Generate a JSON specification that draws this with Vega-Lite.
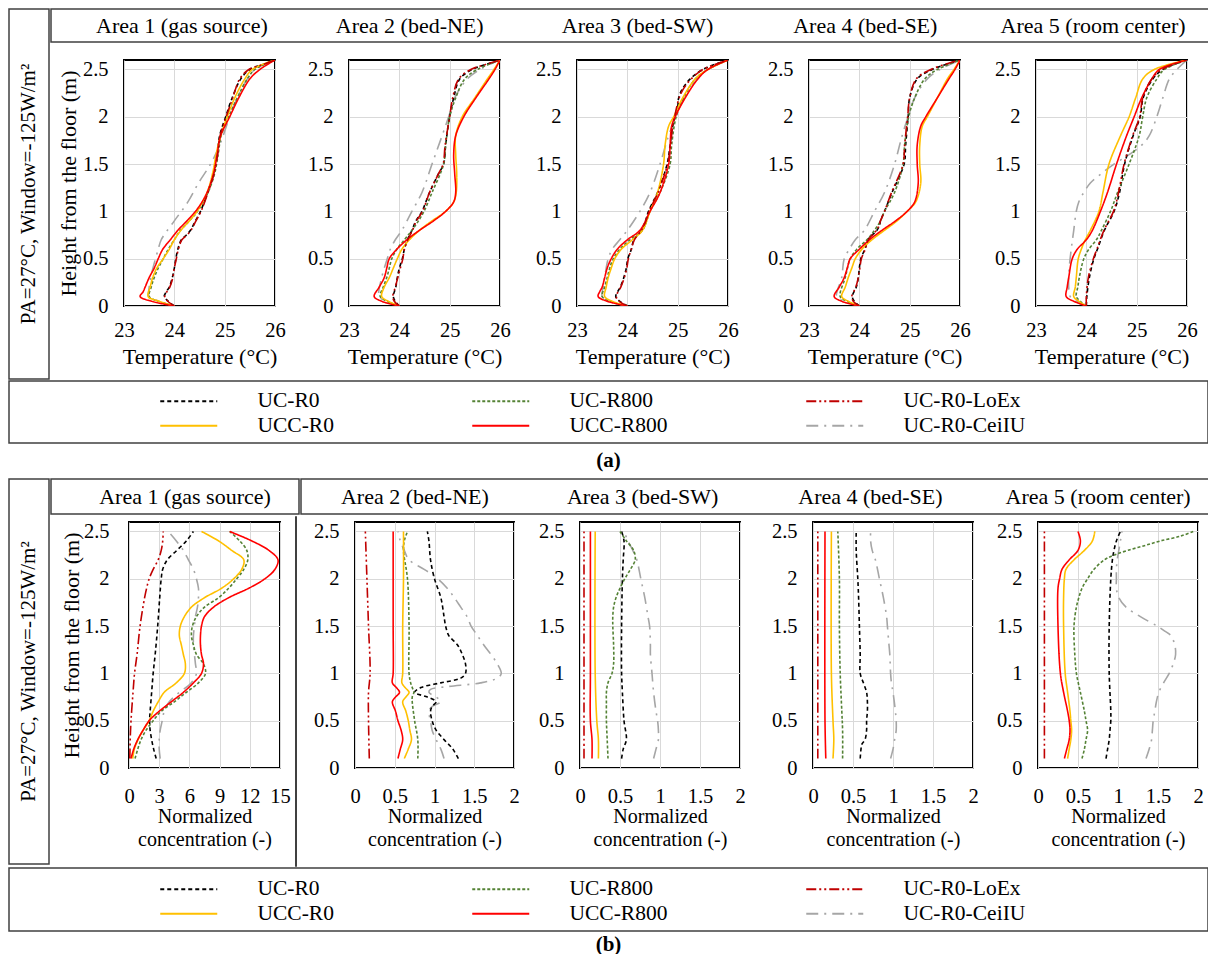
{
"$schema":"https://vega.github.io/schema/vega-lite/v6.json",
"background":"white",
"padding":{"left":8,"top":8,"right":0,"bottom":0},
"config":{
 "font":"Liberation Serif",
 "concat":{"spacing":0},
 "view":{"stroke":null},
 "axis":{"labelFont":"Liberation Serif","labelFontSize":20.5,"labelColor":"black","titleFont":"Liberation Serif","titleFontSize":22,"titleFontWeight":"normal","titleColor":"black","ticks":false,"domain":false,"gridColor":"#d9d9d9","gridWidth":1,"labelFlush":false,"labelOverlap":false},
 "text":{"font":"Liberation Serif","color":"black"}
},
"resolve":{"scale":{"color":"independent","strokeDash":"independent","strokeWidth":"independent"},"legend":{"color":"independent","strokeDash":"independent"}},
"datasets":{
"ta":[
{"p":1,"s":"UC-R0-CeiIU","h":0,"v":24},{"p":1,"s":"UC-R0-CeiIU","h":0.05,"v":23.7},{"p":1,"s":"UC-R0-CeiIU","h":0.1,"v":23.5},{"p":1,"s":"UC-R0-CeiIU","h":0.2,"v":23.5},{"p":1,"s":"UC-R0-CeiIU","h":0.3,"v":23.53},{"p":1,"s":"UC-R0-CeiIU","h":0.45,"v":23.6},{"p":1,"s":"UC-R0-CeiIU","h":0.6,"v":23.68},{"p":1,"s":"UC-R0-CeiIU","h":0.7,"v":23.74},{"p":1,"s":"UC-R0-CeiIU","h":0.9,"v":24.0},{"p":1,"s":"UC-R0-CeiIU","h":1.1,"v":24.27},{"p":1,"s":"UC-R0-CeiIU","h":1.3,"v":24.48},{"p":1,"s":"UC-R0-CeiIU","h":1.5,"v":24.72},{"p":1,"s":"UC-R0-CeiIU","h":1.7,"v":24.9},{"p":1,"s":"UC-R0-CeiIU","h":2,"v":25.1},{"p":1,"s":"UC-R0-CeiIU","h":2.2,"v":25.25},{"p":1,"s":"UC-R0-CeiIU","h":2.4,"v":25.45},{"p":1,"s":"UC-R0-CeiIU","h":2.5,"v":25.6},{"p":1,"s":"UC-R0-CeiIU","h":2.6,"v":26},
{"p":1,"s":"UC-R0","h":0,"v":24},{"p":1,"s":"UC-R0","h":0.05,"v":23.88},{"p":1,"s":"UC-R0","h":0.1,"v":23.8},{"p":1,"s":"UC-R0","h":0.15,"v":23.84},{"p":1,"s":"UC-R0","h":0.2,"v":23.9},{"p":1,"s":"UC-R0","h":0.3,"v":23.96},{"p":1,"s":"UC-R0","h":0.4,"v":24.0},{"p":1,"s":"UC-R0","h":0.5,"v":24.03},{"p":1,"s":"UC-R0","h":0.6,"v":24.07},{"p":1,"s":"UC-R0","h":0.7,"v":24.14},{"p":1,"s":"UC-R0","h":0.75,"v":24.24},{"p":1,"s":"UC-R0","h":0.8,"v":24.32},{"p":1,"s":"UC-R0","h":0.9,"v":24.42},{"p":1,"s":"UC-R0","h":1,"v":24.52},{"p":1,"s":"UC-R0","h":1.2,"v":24.66},{"p":1,"s":"UC-R0","h":1.4,"v":24.78},{"p":1,"s":"UC-R0","h":1.6,"v":24.85},{"p":1,"s":"UC-R0","h":1.8,"v":24.9},{"p":1,"s":"UC-R0","h":2,"v":25.02},{"p":1,"s":"UC-R0","h":2.2,"v":25.15},{"p":1,"s":"UC-R0","h":2.4,"v":25.32},{"p":1,"s":"UC-R0","h":2.5,"v":25.5},{"p":1,"s":"UC-R0","h":2.55,"v":25.75},{"p":1,"s":"UC-R0","h":2.6,"v":26},
{"p":1,"s":"UC-R800","h":0,"v":24},{"p":1,"s":"UC-R800","h":0.05,"v":23.68},{"p":1,"s":"UC-R800","h":0.1,"v":23.5},{"p":1,"s":"UC-R800","h":0.2,"v":23.54},{"p":1,"s":"UC-R800","h":0.3,"v":23.6},{"p":1,"s":"UC-R800","h":0.4,"v":23.68},{"p":1,"s":"UC-R800","h":0.5,"v":23.78},{"p":1,"s":"UC-R800","h":0.6,"v":23.88},{"p":1,"s":"UC-R800","h":0.7,"v":24.0},{"p":1,"s":"UC-R800","h":0.8,"v":24.12},{"p":1,"s":"UC-R800","h":0.9,"v":24.3},{"p":1,"s":"UC-R800","h":1,"v":24.46},{"p":1,"s":"UC-R800","h":1.2,"v":24.67},{"p":1,"s":"UC-R800","h":1.4,"v":24.8},{"p":1,"s":"UC-R800","h":1.6,"v":24.87},{"p":1,"s":"UC-R800","h":1.8,"v":24.93},{"p":1,"s":"UC-R800","h":2,"v":25.08},{"p":1,"s":"UC-R800","h":2.2,"v":25.25},{"p":1,"s":"UC-R800","h":2.4,"v":25.45},{"p":1,"s":"UC-R800","h":2.5,"v":25.6},{"p":1,"s":"UC-R800","h":2.6,"v":26},
{"p":1,"s":"UCC-R0","h":0,"v":24},{"p":1,"s":"UCC-R0","h":0.05,"v":23.7},{"p":1,"s":"UCC-R0","h":0.1,"v":23.48},{"p":1,"s":"UCC-R0","h":0.2,"v":23.52},{"p":1,"s":"UCC-R0","h":0.3,"v":23.57},{"p":1,"s":"UCC-R0","h":0.4,"v":23.65},{"p":1,"s":"UCC-R0","h":0.5,"v":23.78},{"p":1,"s":"UCC-R0","h":0.6,"v":23.9},{"p":1,"s":"UCC-R0","h":0.7,"v":24.0},{"p":1,"s":"UCC-R0","h":0.8,"v":24.13},{"p":1,"s":"UCC-R0","h":0.9,"v":24.3},{"p":1,"s":"UCC-R0","h":1,"v":24.45},{"p":1,"s":"UCC-R0","h":1.2,"v":24.65},{"p":1,"s":"UCC-R0","h":1.4,"v":24.76},{"p":1,"s":"UCC-R0","h":1.6,"v":24.83},{"p":1,"s":"UCC-R0","h":1.8,"v":24.92},{"p":1,"s":"UCC-R0","h":2,"v":25.05},{"p":1,"s":"UCC-R0","h":2.2,"v":25.2},{"p":1,"s":"UCC-R0","h":2.4,"v":25.4},{"p":1,"s":"UCC-R0","h":2.5,"v":25.55},{"p":1,"s":"UCC-R0","h":2.6,"v":26},
{"p":1,"s":"UCC-R800","h":0,"v":24},{"p":1,"s":"UCC-R800","h":0.05,"v":23.55},{"p":1,"s":"UCC-R800","h":0.1,"v":23.32},{"p":1,"s":"UCC-R800","h":0.15,"v":23.38},{"p":1,"s":"UCC-R800","h":0.2,"v":23.42},{"p":1,"s":"UCC-R800","h":0.3,"v":23.5},{"p":1,"s":"UCC-R800","h":0.4,"v":23.6},{"p":1,"s":"UCC-R800","h":0.5,"v":23.68},{"p":1,"s":"UCC-R800","h":0.6,"v":23.77},{"p":1,"s":"UCC-R800","h":0.7,"v":23.92},{"p":1,"s":"UCC-R800","h":0.8,"v":24.07},{"p":1,"s":"UCC-R800","h":0.9,"v":24.25},{"p":1,"s":"UCC-R800","h":1,"v":24.42},{"p":1,"s":"UCC-R800","h":1.1,"v":24.55},{"p":1,"s":"UCC-R800","h":1.2,"v":24.65},{"p":1,"s":"UCC-R800","h":1.4,"v":24.78},{"p":1,"s":"UCC-R800","h":1.6,"v":24.85},{"p":1,"s":"UCC-R800","h":1.8,"v":24.92},{"p":1,"s":"UCC-R800","h":2,"v":25.1},{"p":1,"s":"UCC-R800","h":2.2,"v":25.28},{"p":1,"s":"UCC-R800","h":2.4,"v":25.5},{"p":1,"s":"UCC-R800","h":2.5,"v":25.7},{"p":1,"s":"UCC-R800","h":2.6,"v":26},
{"p":1,"s":"UC-R0-LoEx","h":0,"v":24},{"p":1,"s":"UC-R0-LoEx","h":0.05,"v":23.87},{"p":1,"s":"UC-R0-LoEx","h":0.1,"v":23.81},{"p":1,"s":"UC-R0-LoEx","h":0.15,"v":23.85},{"p":1,"s":"UC-R0-LoEx","h":0.2,"v":23.91},{"p":1,"s":"UC-R0-LoEx","h":0.3,"v":23.97},{"p":1,"s":"UC-R0-LoEx","h":0.4,"v":24.0},{"p":1,"s":"UC-R0-LoEx","h":0.5,"v":24.04},{"p":1,"s":"UC-R0-LoEx","h":0.6,"v":24.08},{"p":1,"s":"UC-R0-LoEx","h":0.7,"v":24.15},{"p":1,"s":"UC-R0-LoEx","h":0.75,"v":24.25},{"p":1,"s":"UC-R0-LoEx","h":0.8,"v":24.33},{"p":1,"s":"UC-R0-LoEx","h":0.9,"v":24.43},{"p":1,"s":"UC-R0-LoEx","h":1,"v":24.53},{"p":1,"s":"UC-R0-LoEx","h":1.2,"v":24.67},{"p":1,"s":"UC-R0-LoEx","h":1.4,"v":24.79},{"p":1,"s":"UC-R0-LoEx","h":1.6,"v":24.86},{"p":1,"s":"UC-R0-LoEx","h":1.8,"v":24.91},{"p":1,"s":"UC-R0-LoEx","h":2,"v":25.03},{"p":1,"s":"UC-R0-LoEx","h":2.2,"v":25.16},{"p":1,"s":"UC-R0-LoEx","h":2.4,"v":25.3},{"p":1,"s":"UC-R0-LoEx","h":2.5,"v":25.48},{"p":1,"s":"UC-R0-LoEx","h":2.55,"v":25.75},{"p":1,"s":"UC-R0-LoEx","h":2.6,"v":26},
{"p":2,"s":"UC-R0-CeiIU","h":0,"v":24},{"p":2,"s":"UC-R0-CeiIU","h":0.05,"v":23.75},{"p":2,"s":"UC-R0-CeiIU","h":0.1,"v":23.6},{"p":2,"s":"UC-R0-CeiIU","h":0.3,"v":23.65},{"p":2,"s":"UC-R0-CeiIU","h":0.5,"v":23.76},{"p":2,"s":"UC-R0-CeiIU","h":0.6,"v":23.82},{"p":2,"s":"UC-R0-CeiIU","h":0.7,"v":23.92},{"p":2,"s":"UC-R0-CeiIU","h":0.8,"v":24.05},{"p":2,"s":"UC-R0-CeiIU","h":1,"v":24.25},{"p":2,"s":"UC-R0-CeiIU","h":1.2,"v":24.45},{"p":2,"s":"UC-R0-CeiIU","h":1.5,"v":24.65},{"p":2,"s":"UC-R0-CeiIU","h":1.8,"v":24.85},{"p":2,"s":"UC-R0-CeiIU","h":2,"v":24.98},{"p":2,"s":"UC-R0-CeiIU","h":2.2,"v":25.1},{"p":2,"s":"UC-R0-CeiIU","h":2.4,"v":25.35},{"p":2,"s":"UC-R0-CeiIU","h":2.5,"v":25.6},{"p":2,"s":"UC-R0-CeiIU","h":2.6,"v":26},
{"p":2,"s":"UC-R0","h":0,"v":24},{"p":2,"s":"UC-R0","h":0.05,"v":23.92},{"p":2,"s":"UC-R0","h":0.1,"v":23.88},{"p":2,"s":"UC-R0","h":0.2,"v":23.93},{"p":2,"s":"UC-R0","h":0.3,"v":23.96},{"p":2,"s":"UC-R0","h":0.4,"v":24.0},{"p":2,"s":"UC-R0","h":0.5,"v":24.06},{"p":2,"s":"UC-R0","h":0.6,"v":24.1},{"p":2,"s":"UC-R0","h":0.7,"v":24.16},{"p":2,"s":"UC-R0","h":0.8,"v":24.25},{"p":2,"s":"UC-R0","h":0.9,"v":24.33},{"p":2,"s":"UC-R0","h":1,"v":24.45},{"p":2,"s":"UC-R0","h":1.2,"v":24.6},{"p":2,"s":"UC-R0","h":1.4,"v":24.78},{"p":2,"s":"UC-R0","h":1.5,"v":24.88},{"p":2,"s":"UC-R0","h":1.7,"v":24.92},{"p":2,"s":"UC-R0","h":2,"v":25.0},{"p":2,"s":"UC-R0","h":2.2,"v":25.08},{"p":2,"s":"UC-R0","h":2.4,"v":25.2},{"p":2,"s":"UC-R0","h":2.5,"v":25.45},{"p":2,"s":"UC-R0","h":2.55,"v":25.7},{"p":2,"s":"UC-R0","h":2.6,"v":26},
{"p":2,"s":"UC-R800","h":0,"v":24},{"p":2,"s":"UC-R800","h":0.05,"v":23.75},{"p":2,"s":"UC-R800","h":0.1,"v":23.62},{"p":2,"s":"UC-R800","h":0.2,"v":23.68},{"p":2,"s":"UC-R800","h":0.3,"v":23.75},{"p":2,"s":"UC-R800","h":0.4,"v":23.8},{"p":2,"s":"UC-R800","h":0.5,"v":23.85},{"p":2,"s":"UC-R800","h":0.6,"v":23.95},{"p":2,"s":"UC-R800","h":0.7,"v":24.1},{"p":2,"s":"UC-R800","h":0.8,"v":24.25},{"p":2,"s":"UC-R800","h":0.9,"v":24.38},{"p":2,"s":"UC-R800","h":1,"v":24.49},{"p":2,"s":"UC-R800","h":1.2,"v":24.65},{"p":2,"s":"UC-R800","h":1.5,"v":24.88},{"p":2,"s":"UC-R800","h":1.7,"v":24.92},{"p":2,"s":"UC-R800","h":2,"v":25.0},{"p":2,"s":"UC-R800","h":2.2,"v":25.12},{"p":2,"s":"UC-R800","h":2.4,"v":25.3},{"p":2,"s":"UC-R800","h":2.5,"v":25.55},{"p":2,"s":"UC-R800","h":2.6,"v":26},
{"p":2,"s":"UCC-R0","h":0,"v":24},{"p":2,"s":"UCC-R0","h":0.05,"v":23.78},{"p":2,"s":"UCC-R0","h":0.1,"v":23.65},{"p":2,"s":"UCC-R0","h":0.2,"v":23.7},{"p":2,"s":"UCC-R0","h":0.3,"v":23.8},{"p":2,"s":"UCC-R0","h":0.4,"v":23.88},{"p":2,"s":"UCC-R0","h":0.5,"v":23.96},{"p":2,"s":"UCC-R0","h":0.6,"v":24.05},{"p":2,"s":"UCC-R0","h":0.7,"v":24.2},{"p":2,"s":"UCC-R0","h":0.8,"v":24.4},{"p":2,"s":"UCC-R0","h":0.9,"v":24.65},{"p":2,"s":"UCC-R0","h":1,"v":24.92},{"p":2,"s":"UCC-R0","h":1.1,"v":25.08},{"p":2,"s":"UCC-R0","h":1.2,"v":25.13},{"p":2,"s":"UCC-R0","h":1.4,"v":25.14},{"p":2,"s":"UCC-R0","h":1.6,"v":25.12},{"p":2,"s":"UCC-R0","h":1.8,"v":25.12},{"p":2,"s":"UCC-R0","h":2,"v":25.25},{"p":2,"s":"UCC-R0","h":2.2,"v":25.5},{"p":2,"s":"UCC-R0","h":2.4,"v":25.75},{"p":2,"s":"UCC-R0","h":2.5,"v":25.88},{"p":2,"s":"UCC-R0","h":2.6,"v":26},
{"p":2,"s":"UCC-R800","h":0,"v":24},{"p":2,"s":"UCC-R800","h":0.05,"v":23.65},{"p":2,"s":"UCC-R800","h":0.1,"v":23.5},{"p":2,"s":"UCC-R800","h":0.2,"v":23.6},{"p":2,"s":"UCC-R800","h":0.3,"v":23.7},{"p":2,"s":"UCC-R800","h":0.4,"v":23.75},{"p":2,"s":"UCC-R800","h":0.5,"v":23.8},{"p":2,"s":"UCC-R800","h":0.6,"v":23.95},{"p":2,"s":"UCC-R800","h":0.7,"v":24.15},{"p":2,"s":"UCC-R800","h":0.8,"v":24.4},{"p":2,"s":"UCC-R800","h":0.9,"v":24.68},{"p":2,"s":"UCC-R800","h":1,"v":24.92},{"p":2,"s":"UCC-R800","h":1.1,"v":25.08},{"p":2,"s":"UCC-R800","h":1.2,"v":25.12},{"p":2,"s":"UCC-R800","h":1.4,"v":25.1},{"p":2,"s":"UCC-R800","h":1.6,"v":25.08},{"p":2,"s":"UCC-R800","h":1.8,"v":25.12},{"p":2,"s":"UCC-R800","h":2,"v":25.28},{"p":2,"s":"UCC-R800","h":2.2,"v":25.52},{"p":2,"s":"UCC-R800","h":2.4,"v":25.78},{"p":2,"s":"UCC-R800","h":2.5,"v":25.9},{"p":2,"s":"UCC-R800","h":2.6,"v":26},
{"p":2,"s":"UC-R0-LoEx","h":0,"v":24},{"p":2,"s":"UC-R0-LoEx","h":0.05,"v":23.9},{"p":2,"s":"UC-R0-LoEx","h":0.1,"v":23.87},{"p":2,"s":"UC-R0-LoEx","h":0.2,"v":23.92},{"p":2,"s":"UC-R0-LoEx","h":0.3,"v":23.97},{"p":2,"s":"UC-R0-LoEx","h":0.4,"v":24.02},{"p":2,"s":"UC-R0-LoEx","h":0.5,"v":24.07},{"p":2,"s":"UC-R0-LoEx","h":0.6,"v":24.1},{"p":2,"s":"UC-R0-LoEx","h":0.7,"v":24.17},{"p":2,"s":"UC-R0-LoEx","h":0.8,"v":24.26},{"p":2,"s":"UC-R0-LoEx","h":0.9,"v":24.34},{"p":2,"s":"UC-R0-LoEx","h":1,"v":24.46},{"p":2,"s":"UC-R0-LoEx","h":1.2,"v":24.6},{"p":2,"s":"UC-R0-LoEx","h":1.4,"v":24.78},{"p":2,"s":"UC-R0-LoEx","h":1.5,"v":24.87},{"p":2,"s":"UC-R0-LoEx","h":1.7,"v":24.91},{"p":2,"s":"UC-R0-LoEx","h":2,"v":25.0},{"p":2,"s":"UC-R0-LoEx","h":2.2,"v":25.06},{"p":2,"s":"UC-R0-LoEx","h":2.4,"v":25.18},{"p":2,"s":"UC-R0-LoEx","h":2.5,"v":25.42},{"p":2,"s":"UC-R0-LoEx","h":2.55,"v":25.7},{"p":2,"s":"UC-R0-LoEx","h":2.6,"v":26},
{"p":3,"s":"UC-R0-CeiIU","h":0,"v":24},{"p":3,"s":"UC-R0-CeiIU","h":0.05,"v":23.65},{"p":3,"s":"UC-R0-CeiIU","h":0.1,"v":23.5},{"p":3,"s":"UC-R0-CeiIU","h":0.2,"v":23.52},{"p":3,"s":"UC-R0-CeiIU","h":0.3,"v":23.55},{"p":3,"s":"UC-R0-CeiIU","h":0.5,"v":23.62},{"p":3,"s":"UC-R0-CeiIU","h":0.6,"v":23.7},{"p":3,"s":"UC-R0-CeiIU","h":0.7,"v":23.85},{"p":3,"s":"UC-R0-CeiIU","h":0.8,"v":24.0},{"p":3,"s":"UC-R0-CeiIU","h":1,"v":24.25},{"p":3,"s":"UC-R0-CeiIU","h":1.2,"v":24.45},{"p":3,"s":"UC-R0-CeiIU","h":1.5,"v":24.65},{"p":3,"s":"UC-R0-CeiIU","h":1.8,"v":24.82},{"p":3,"s":"UC-R0-CeiIU","h":2,"v":24.97},{"p":3,"s":"UC-R0-CeiIU","h":2.2,"v":25.12},{"p":3,"s":"UC-R0-CeiIU","h":2.4,"v":25.4},{"p":3,"s":"UC-R0-CeiIU","h":2.5,"v":25.6},{"p":3,"s":"UC-R0-CeiIU","h":2.6,"v":26},
{"p":3,"s":"UC-R0","h":0,"v":24.01},{"p":3,"s":"UC-R0","h":0.05,"v":23.85},{"p":3,"s":"UC-R0","h":0.1,"v":23.77},{"p":3,"s":"UC-R0","h":0.2,"v":23.86},{"p":3,"s":"UC-R0","h":0.3,"v":23.93},{"p":3,"s":"UC-R0","h":0.4,"v":23.98},{"p":3,"s":"UC-R0","h":0.5,"v":24.01},{"p":3,"s":"UC-R0","h":0.6,"v":24.08},{"p":3,"s":"UC-R0","h":0.7,"v":24.13},{"p":3,"s":"UC-R0","h":0.8,"v":24.28},{"p":3,"s":"UC-R0","h":0.9,"v":24.36},{"p":3,"s":"UC-R0","h":1,"v":24.42},{"p":3,"s":"UC-R0","h":1.2,"v":24.6},{"p":3,"s":"UC-R0","h":1.5,"v":24.79},{"p":3,"s":"UC-R0","h":1.7,"v":24.85},{"p":3,"s":"UC-R0","h":1.9,"v":24.9},{"p":3,"s":"UC-R0","h":2,"v":24.95},{"p":3,"s":"UC-R0","h":2.1,"v":25.0},{"p":3,"s":"UC-R0","h":2.2,"v":25.02},{"p":3,"s":"UC-R0","h":2.3,"v":25.1},{"p":3,"s":"UC-R0","h":2.4,"v":25.25},{"p":3,"s":"UC-R0","h":2.5,"v":25.5},{"p":3,"s":"UC-R0","h":2.6,"v":26},
{"p":3,"s":"UC-R800","h":0,"v":24},{"p":3,"s":"UC-R800","h":0.05,"v":23.65},{"p":3,"s":"UC-R800","h":0.1,"v":23.5},{"p":3,"s":"UC-R800","h":0.2,"v":23.55},{"p":3,"s":"UC-R800","h":0.3,"v":23.6},{"p":3,"s":"UC-R800","h":0.4,"v":23.65},{"p":3,"s":"UC-R800","h":0.5,"v":23.72},{"p":3,"s":"UC-R800","h":0.6,"v":23.85},{"p":3,"s":"UC-R800","h":0.7,"v":24.05},{"p":3,"s":"UC-R800","h":0.8,"v":24.3},{"p":3,"s":"UC-R800","h":1,"v":24.45},{"p":3,"s":"UC-R800","h":1.2,"v":24.65},{"p":3,"s":"UC-R800","h":1.5,"v":24.85},{"p":3,"s":"UC-R800","h":1.7,"v":24.88},{"p":3,"s":"UC-R800","h":2,"v":24.97},{"p":3,"s":"UC-R800","h":2.2,"v":25.12},{"p":3,"s":"UC-R800","h":2.4,"v":25.35},{"p":3,"s":"UC-R800","h":2.5,"v":25.6},{"p":3,"s":"UC-R800","h":2.6,"v":26},
{"p":3,"s":"UCC-R0","h":0,"v":24},{"p":3,"s":"UCC-R0","h":0.05,"v":23.7},{"p":3,"s":"UCC-R0","h":0.1,"v":23.55},{"p":3,"s":"UCC-R0","h":0.2,"v":23.58},{"p":3,"s":"UCC-R0","h":0.3,"v":23.62},{"p":3,"s":"UCC-R0","h":0.4,"v":23.68},{"p":3,"s":"UCC-R0","h":0.5,"v":23.75},{"p":3,"s":"UCC-R0","h":0.6,"v":23.88},{"p":3,"s":"UCC-R0","h":0.7,"v":24.1},{"p":3,"s":"UCC-R0","h":0.8,"v":24.3},{"p":3,"s":"UCC-R0","h":1,"v":24.45},{"p":3,"s":"UCC-R0","h":1.2,"v":24.6},{"p":3,"s":"UCC-R0","h":1.5,"v":24.72},{"p":3,"s":"UCC-R0","h":1.7,"v":24.75},{"p":3,"s":"UCC-R0","h":1.9,"v":24.82},{"p":3,"s":"UCC-R0","h":2,"v":24.92},{"p":3,"s":"UCC-R0","h":2.2,"v":25.1},{"p":3,"s":"UCC-R0","h":2.4,"v":25.35},{"p":3,"s":"UCC-R0","h":2.5,"v":25.6},{"p":3,"s":"UCC-R0","h":2.6,"v":26},
{"p":3,"s":"UCC-R800","h":0,"v":24},{"p":3,"s":"UCC-R800","h":0.05,"v":23.6},{"p":3,"s":"UCC-R800","h":0.1,"v":23.42},{"p":3,"s":"UCC-R800","h":0.15,"v":23.45},{"p":3,"s":"UCC-R800","h":0.2,"v":23.5},{"p":3,"s":"UCC-R800","h":0.3,"v":23.55},{"p":3,"s":"UCC-R800","h":0.4,"v":23.6},{"p":3,"s":"UCC-R800","h":0.5,"v":23.68},{"p":3,"s":"UCC-R800","h":0.6,"v":23.8},{"p":3,"s":"UCC-R800","h":0.7,"v":24.0},{"p":3,"s":"UCC-R800","h":0.8,"v":24.25},{"p":3,"s":"UCC-R800","h":1,"v":24.45},{"p":3,"s":"UCC-R800","h":1.2,"v":24.65},{"p":3,"s":"UCC-R800","h":1.5,"v":24.82},{"p":3,"s":"UCC-R800","h":1.7,"v":24.85},{"p":3,"s":"UCC-R800","h":1.9,"v":24.88},{"p":3,"s":"UCC-R800","h":2,"v":24.95},{"p":3,"s":"UCC-R800","h":2.2,"v":25.15},{"p":3,"s":"UCC-R800","h":2.4,"v":25.4},{"p":3,"s":"UCC-R800","h":2.5,"v":25.6},{"p":3,"s":"UCC-R800","h":2.6,"v":26},
{"p":3,"s":"UC-R0-LoEx","h":0,"v":24},{"p":3,"s":"UC-R0-LoEx","h":0.05,"v":23.84},{"p":3,"s":"UC-R0-LoEx","h":0.1,"v":23.78},{"p":3,"s":"UC-R0-LoEx","h":0.2,"v":23.87},{"p":3,"s":"UC-R0-LoEx","h":0.3,"v":23.94},{"p":3,"s":"UC-R0-LoEx","h":0.4,"v":23.99},{"p":3,"s":"UC-R0-LoEx","h":0.5,"v":24.02},{"p":3,"s":"UC-R0-LoEx","h":0.6,"v":24.08},{"p":3,"s":"UC-R0-LoEx","h":0.7,"v":24.14},{"p":3,"s":"UC-R0-LoEx","h":0.8,"v":24.28},{"p":3,"s":"UC-R0-LoEx","h":0.9,"v":24.37},{"p":3,"s":"UC-R0-LoEx","h":1,"v":24.43},{"p":3,"s":"UC-R0-LoEx","h":1.2,"v":24.61},{"p":3,"s":"UC-R0-LoEx","h":1.5,"v":24.8},{"p":3,"s":"UC-R0-LoEx","h":1.7,"v":24.86},{"p":3,"s":"UC-R0-LoEx","h":1.9,"v":24.9},{"p":3,"s":"UC-R0-LoEx","h":2,"v":24.94},{"p":3,"s":"UC-R0-LoEx","h":2.1,"v":24.98},{"p":3,"s":"UC-R0-LoEx","h":2.2,"v":25.03},{"p":3,"s":"UC-R0-LoEx","h":2.3,"v":25.12},{"p":3,"s":"UC-R0-LoEx","h":2.4,"v":25.27},{"p":3,"s":"UC-R0-LoEx","h":2.5,"v":25.5},{"p":3,"s":"UC-R0-LoEx","h":2.6,"v":26},
{"p":4,"s":"UC-R0-CeiIU","h":0,"v":24},{"p":4,"s":"UC-R0-CeiIU","h":0.05,"v":23.7},{"p":4,"s":"UC-R0-CeiIU","h":0.1,"v":23.55},{"p":4,"s":"UC-R0-CeiIU","h":0.3,"v":23.65},{"p":4,"s":"UC-R0-CeiIU","h":0.5,"v":23.7},{"p":4,"s":"UC-R0-CeiIU","h":0.6,"v":23.8},{"p":4,"s":"UC-R0-CeiIU","h":0.7,"v":23.92},{"p":4,"s":"UC-R0-CeiIU","h":0.8,"v":24.1},{"p":4,"s":"UC-R0-CeiIU","h":1,"v":24.3},{"p":4,"s":"UC-R0-CeiIU","h":1.2,"v":24.5},{"p":4,"s":"UC-R0-CeiIU","h":1.5,"v":24.7},{"p":4,"s":"UC-R0-CeiIU","h":1.8,"v":24.85},{"p":4,"s":"UC-R0-CeiIU","h":2,"v":24.97},{"p":4,"s":"UC-R0-CeiIU","h":2.2,"v":25.1},{"p":4,"s":"UC-R0-CeiIU","h":2.4,"v":25.35},{"p":4,"s":"UC-R0-CeiIU","h":2.5,"v":25.6},{"p":4,"s":"UC-R0-CeiIU","h":2.6,"v":26},
{"p":4,"s":"UC-R0","h":0,"v":24},{"p":4,"s":"UC-R0","h":0.05,"v":23.9},{"p":4,"s":"UC-R0","h":0.1,"v":23.86},{"p":4,"s":"UC-R0","h":0.2,"v":23.94},{"p":4,"s":"UC-R0","h":0.3,"v":23.98},{"p":4,"s":"UC-R0","h":0.4,"v":24.0},{"p":4,"s":"UC-R0","h":0.5,"v":24.03},{"p":4,"s":"UC-R0","h":0.6,"v":24.11},{"p":4,"s":"UC-R0","h":0.7,"v":24.17},{"p":4,"s":"UC-R0","h":0.8,"v":24.35},{"p":4,"s":"UC-R0","h":0.85,"v":24.4},{"p":4,"s":"UC-R0","h":0.9,"v":24.42},{"p":4,"s":"UC-R0","h":1,"v":24.5},{"p":4,"s":"UC-R0","h":1.2,"v":24.65},{"p":4,"s":"UC-R0","h":1.5,"v":24.89},{"p":4,"s":"UC-R0","h":1.7,"v":24.92},{"p":4,"s":"UC-R0","h":2,"v":24.97},{"p":4,"s":"UC-R0","h":2.2,"v":25.0},{"p":4,"s":"UC-R0","h":2.4,"v":25.15},{"p":4,"s":"UC-R0","h":2.5,"v":25.45},{"p":4,"s":"UC-R0","h":2.6,"v":26},
{"p":4,"s":"UC-R800","h":0,"v":24},{"p":4,"s":"UC-R800","h":0.05,"v":23.75},{"p":4,"s":"UC-R800","h":0.1,"v":23.62},{"p":4,"s":"UC-R800","h":0.3,"v":23.72},{"p":4,"s":"UC-R800","h":0.5,"v":23.82},{"p":4,"s":"UC-R800","h":0.6,"v":23.95},{"p":4,"s":"UC-R800","h":0.7,"v":24.15},{"p":4,"s":"UC-R800","h":0.8,"v":24.3},{"p":4,"s":"UC-R800","h":0.9,"v":24.42},{"p":4,"s":"UC-R800","h":1,"v":24.5},{"p":4,"s":"UC-R800","h":1.2,"v":24.7},{"p":4,"s":"UC-R800","h":1.5,"v":24.87},{"p":4,"s":"UC-R800","h":1.7,"v":24.9},{"p":4,"s":"UC-R800","h":2,"v":24.98},{"p":4,"s":"UC-R800","h":2.2,"v":25.1},{"p":4,"s":"UC-R800","h":2.4,"v":25.3},{"p":4,"s":"UC-R800","h":2.5,"v":25.55},{"p":4,"s":"UC-R800","h":2.6,"v":26},
{"p":4,"s":"UCC-R0","h":0,"v":24},{"p":4,"s":"UCC-R0","h":0.05,"v":23.78},{"p":4,"s":"UCC-R0","h":0.1,"v":23.65},{"p":4,"s":"UCC-R0","h":0.2,"v":23.72},{"p":4,"s":"UCC-R0","h":0.3,"v":23.78},{"p":4,"s":"UCC-R0","h":0.4,"v":23.85},{"p":4,"s":"UCC-R0","h":0.5,"v":23.92},{"p":4,"s":"UCC-R0","h":0.6,"v":24.05},{"p":4,"s":"UCC-R0","h":0.7,"v":24.25},{"p":4,"s":"UCC-R0","h":0.8,"v":24.5},{"p":4,"s":"UCC-R0","h":0.9,"v":24.75},{"p":4,"s":"UCC-R0","h":1,"v":24.95},{"p":4,"s":"UCC-R0","h":1.1,"v":25.12},{"p":4,"s":"UCC-R0","h":1.3,"v":25.22},{"p":4,"s":"UCC-R0","h":1.5,"v":25.2},{"p":4,"s":"UCC-R0","h":1.7,"v":25.2},{"p":4,"s":"UCC-R0","h":1.9,"v":25.25},{"p":4,"s":"UCC-R0","h":2,"v":25.35},{"p":4,"s":"UCC-R0","h":2.2,"v":25.55},{"p":4,"s":"UCC-R0","h":2.4,"v":25.75},{"p":4,"s":"UCC-R0","h":2.5,"v":25.88},{"p":4,"s":"UCC-R0","h":2.6,"v":26},
{"p":4,"s":"UCC-R800","h":0,"v":24},{"p":4,"s":"UCC-R800","h":0.05,"v":23.65},{"p":4,"s":"UCC-R800","h":0.1,"v":23.5},{"p":4,"s":"UCC-R800","h":0.2,"v":23.6},{"p":4,"s":"UCC-R800","h":0.3,"v":23.7},{"p":4,"s":"UCC-R800","h":0.4,"v":23.76},{"p":4,"s":"UCC-R800","h":0.5,"v":23.82},{"p":4,"s":"UCC-R800","h":0.6,"v":24.0},{"p":4,"s":"UCC-R800","h":0.7,"v":24.2},{"p":4,"s":"UCC-R800","h":0.8,"v":24.45},{"p":4,"s":"UCC-R800","h":0.9,"v":24.72},{"p":4,"s":"UCC-R800","h":1,"v":24.95},{"p":4,"s":"UCC-R800","h":1.1,"v":25.1},{"p":4,"s":"UCC-R800","h":1.3,"v":25.17},{"p":4,"s":"UCC-R800","h":1.5,"v":25.15},{"p":4,"s":"UCC-R800","h":1.7,"v":25.15},{"p":4,"s":"UCC-R800","h":1.9,"v":25.22},{"p":4,"s":"UCC-R800","h":2,"v":25.32},{"p":4,"s":"UCC-R800","h":2.2,"v":25.55},{"p":4,"s":"UCC-R800","h":2.4,"v":25.78},{"p":4,"s":"UCC-R800","h":2.5,"v":25.9},{"p":4,"s":"UCC-R800","h":2.6,"v":26},
{"p":4,"s":"UC-R0-LoEx","h":0,"v":24},{"p":4,"s":"UC-R0-LoEx","h":0.05,"v":23.88},{"p":4,"s":"UC-R0-LoEx","h":0.1,"v":23.85},{"p":4,"s":"UC-R0-LoEx","h":0.2,"v":23.93},{"p":4,"s":"UC-R0-LoEx","h":0.3,"v":23.98},{"p":4,"s":"UC-R0-LoEx","h":0.4,"v":24.01},{"p":4,"s":"UC-R0-LoEx","h":0.5,"v":24.04},{"p":4,"s":"UC-R0-LoEx","h":0.6,"v":24.12},{"p":4,"s":"UC-R0-LoEx","h":0.7,"v":24.18},{"p":4,"s":"UC-R0-LoEx","h":0.8,"v":24.34},{"p":4,"s":"UC-R0-LoEx","h":0.85,"v":24.39},{"p":4,"s":"UC-R0-LoEx","h":0.9,"v":24.42},{"p":4,"s":"UC-R0-LoEx","h":1,"v":24.5},{"p":4,"s":"UC-R0-LoEx","h":1.2,"v":24.64},{"p":4,"s":"UC-R0-LoEx","h":1.5,"v":24.87},{"p":4,"s":"UC-R0-LoEx","h":1.7,"v":24.9},{"p":4,"s":"UC-R0-LoEx","h":2,"v":24.96},{"p":4,"s":"UC-R0-LoEx","h":2.2,"v":25.0},{"p":4,"s":"UC-R0-LoEx","h":2.4,"v":25.13},{"p":4,"s":"UC-R0-LoEx","h":2.5,"v":25.42},{"p":4,"s":"UC-R0-LoEx","h":2.6,"v":26},
{"p":5,"s":"UC-R0-CeiIU","h":0,"v":24},{"p":5,"s":"UC-R0-CeiIU","h":0.05,"v":23.8},{"p":5,"s":"UC-R0-CeiIU","h":0.1,"v":23.68},{"p":5,"s":"UC-R0-CeiIU","h":0.2,"v":23.65},{"p":5,"s":"UC-R0-CeiIU","h":0.4,"v":23.66},{"p":5,"s":"UC-R0-CeiIU","h":0.6,"v":23.7},{"p":5,"s":"UC-R0-CeiIU","h":0.8,"v":23.75},{"p":5,"s":"UC-R0-CeiIU","h":1,"v":23.8},{"p":5,"s":"UC-R0-CeiIU","h":1.1,"v":23.85},{"p":5,"s":"UC-R0-CeiIU","h":1.2,"v":23.95},{"p":5,"s":"UC-R0-CeiIU","h":1.3,"v":24.08},{"p":5,"s":"UC-R0-CeiIU","h":1.4,"v":24.3},{"p":5,"s":"UC-R0-CeiIU","h":1.5,"v":24.55},{"p":5,"s":"UC-R0-CeiIU","h":1.6,"v":24.85},{"p":5,"s":"UC-R0-CeiIU","h":1.7,"v":25.1},{"p":5,"s":"UC-R0-CeiIU","h":1.8,"v":25.25},{"p":5,"s":"UC-R0-CeiIU","h":2,"v":25.4},{"p":5,"s":"UC-R0-CeiIU","h":2.2,"v":25.52},{"p":5,"s":"UC-R0-CeiIU","h":2.4,"v":25.65},{"p":5,"s":"UC-R0-CeiIU","h":2.5,"v":25.8},{"p":5,"s":"UC-R0-CeiIU","h":2.6,"v":26},
{"p":5,"s":"UC-R0","h":0,"v":24},{"p":5,"s":"UC-R0","h":0.1,"v":24.01},{"p":5,"s":"UC-R0","h":0.3,"v":24.06},{"p":5,"s":"UC-R0","h":0.5,"v":24.15},{"p":5,"s":"UC-R0","h":0.6,"v":24.22},{"p":5,"s":"UC-R0","h":0.8,"v":24.36},{"p":5,"s":"UC-R0","h":1,"v":24.55},{"p":5,"s":"UC-R0","h":1.2,"v":24.66},{"p":5,"s":"UC-R0","h":1.5,"v":24.76},{"p":5,"s":"UC-R0","h":1.8,"v":24.93},{"p":5,"s":"UC-R0","h":2,"v":25.07},{"p":5,"s":"UC-R0","h":2.2,"v":25.13},{"p":5,"s":"UC-R0","h":2.4,"v":25.32},{"p":5,"s":"UC-R0","h":2.5,"v":25.52},{"p":5,"s":"UC-R0","h":2.6,"v":26},
{"p":5,"s":"UC-R800","h":0,"v":24},{"p":5,"s":"UC-R800","h":0.05,"v":23.88},{"p":5,"s":"UC-R800","h":0.1,"v":23.8},{"p":5,"s":"UC-R800","h":0.2,"v":23.83},{"p":5,"s":"UC-R800","h":0.3,"v":23.86},{"p":5,"s":"UC-R800","h":0.5,"v":23.95},{"p":5,"s":"UC-R800","h":0.6,"v":24.05},{"p":5,"s":"UC-R800","h":0.7,"v":24.2},{"p":5,"s":"UC-R800","h":0.8,"v":24.3},{"p":5,"s":"UC-R800","h":1,"v":24.48},{"p":5,"s":"UC-R800","h":1.2,"v":24.62},{"p":5,"s":"UC-R800","h":1.5,"v":24.85},{"p":5,"s":"UC-R800","h":1.8,"v":25.05},{"p":5,"s":"UC-R800","h":2,"v":25.12},{"p":5,"s":"UC-R800","h":2.2,"v":25.2},{"p":5,"s":"UC-R800","h":2.4,"v":25.4},{"p":5,"s":"UC-R800","h":2.5,"v":25.55},{"p":5,"s":"UC-R800","h":2.6,"v":26},
{"p":5,"s":"UCC-R0","h":0,"v":24},{"p":5,"s":"UCC-R0","h":0.05,"v":23.85},{"p":5,"s":"UCC-R0","h":0.1,"v":23.75},{"p":5,"s":"UCC-R0","h":0.2,"v":23.78},{"p":5,"s":"UCC-R0","h":0.3,"v":23.8},{"p":5,"s":"UCC-R0","h":0.5,"v":23.84},{"p":5,"s":"UCC-R0","h":0.6,"v":23.9},{"p":5,"s":"UCC-R0","h":0.7,"v":23.98},{"p":5,"s":"UCC-R0","h":0.8,"v":24.08},{"p":5,"s":"UCC-R0","h":1,"v":24.25},{"p":5,"s":"UCC-R0","h":1.2,"v":24.33},{"p":5,"s":"UCC-R0","h":1.5,"v":24.45},{"p":5,"s":"UCC-R0","h":1.8,"v":24.68},{"p":5,"s":"UCC-R0","h":2,"v":24.85},{"p":5,"s":"UCC-R0","h":2.2,"v":24.98},{"p":5,"s":"UCC-R0","h":2.4,"v":25.12},{"p":5,"s":"UCC-R0","h":2.5,"v":25.35},{"p":5,"s":"UCC-R0","h":2.6,"v":26},
{"p":5,"s":"UCC-R800","h":0,"v":24},{"p":5,"s":"UCC-R800","h":0.05,"v":23.75},{"p":5,"s":"UCC-R800","h":0.1,"v":23.6},{"p":5,"s":"UCC-R800","h":0.2,"v":23.62},{"p":5,"s":"UCC-R800","h":0.3,"v":23.65},{"p":5,"s":"UCC-R800","h":0.5,"v":23.72},{"p":5,"s":"UCC-R800","h":0.6,"v":23.82},{"p":5,"s":"UCC-R800","h":0.7,"v":24.0},{"p":5,"s":"UCC-R800","h":0.8,"v":24.12},{"p":5,"s":"UCC-R800","h":1,"v":24.28},{"p":5,"s":"UCC-R800","h":1.2,"v":24.42},{"p":5,"s":"UCC-R800","h":1.5,"v":24.6},{"p":5,"s":"UCC-R800","h":1.8,"v":24.8},{"p":5,"s":"UCC-R800","h":2,"v":24.95},{"p":5,"s":"UCC-R800","h":2.2,"v":25.1},{"p":5,"s":"UCC-R800","h":2.4,"v":25.3},{"p":5,"s":"UCC-R800","h":2.5,"v":25.45},{"p":5,"s":"UCC-R800","h":2.6,"v":26},
{"p":5,"s":"UC-R0-LoEx","h":0,"v":24},{"p":5,"s":"UC-R0-LoEx","h":0.1,"v":24.0},{"p":5,"s":"UC-R0-LoEx","h":0.3,"v":24.04},{"p":5,"s":"UC-R0-LoEx","h":0.5,"v":24.14},{"p":5,"s":"UC-R0-LoEx","h":0.6,"v":24.21},{"p":5,"s":"UC-R0-LoEx","h":0.8,"v":24.35},{"p":5,"s":"UC-R0-LoEx","h":1,"v":24.54},{"p":5,"s":"UC-R0-LoEx","h":1.2,"v":24.64},{"p":5,"s":"UC-R0-LoEx","h":1.5,"v":24.75},{"p":5,"s":"UC-R0-LoEx","h":1.8,"v":24.92},{"p":5,"s":"UC-R0-LoEx","h":2,"v":25.06},{"p":5,"s":"UC-R0-LoEx","h":2.2,"v":25.12},{"p":5,"s":"UC-R0-LoEx","h":2.4,"v":25.3},{"p":5,"s":"UC-R0-LoEx","h":2.5,"v":25.5},{"p":5,"s":"UC-R0-LoEx","h":2.6,"v":26}
],
"cb":[
{"p":1,"s":"UC-R0-CeiIU","h":0.1,"v":3.1},{"p":1,"s":"UC-R0-CeiIU","h":0.2,"v":3.0},{"p":1,"s":"UC-R0-CeiIU","h":0.3,"v":3.0},{"p":1,"s":"UC-R0-CeiIU","h":0.4,"v":3.1},{"p":1,"s":"UC-R0-CeiIU","h":0.5,"v":3.3},{"p":1,"s":"UC-R0-CeiIU","h":0.6,"v":3.5},{"p":1,"s":"UC-R0-CeiIU","h":0.7,"v":4.0},{"p":1,"s":"UC-R0-CeiIU","h":0.8,"v":5.0},{"p":1,"s":"UC-R0-CeiIU","h":0.9,"v":6.2},{"p":1,"s":"UC-R0-CeiIU","h":1,"v":6.7},{"p":1,"s":"UC-R0-CeiIU","h":1.1,"v":6.6},{"p":1,"s":"UC-R0-CeiIU","h":1.2,"v":6.5},{"p":1,"s":"UC-R0-CeiIU","h":1.3,"v":6.4},{"p":1,"s":"UC-R0-CeiIU","h":1.4,"v":6.4},{"p":1,"s":"UC-R0-CeiIU","h":1.5,"v":6.5},{"p":1,"s":"UC-R0-CeiIU","h":1.6,"v":6.6},{"p":1,"s":"UC-R0-CeiIU","h":1.7,"v":6.8},{"p":1,"s":"UC-R0-CeiIU","h":1.8,"v":6.9},{"p":1,"s":"UC-R0-CeiIU","h":1.9,"v":6.9},{"p":1,"s":"UC-R0-CeiIU","h":2,"v":6.7},{"p":1,"s":"UC-R0-CeiIU","h":2.1,"v":6.4},{"p":1,"s":"UC-R0-CeiIU","h":2.2,"v":5.9},{"p":1,"s":"UC-R0-CeiIU","h":2.3,"v":5.4},{"p":1,"s":"UC-R0-CeiIU","h":2.4,"v":4.7},{"p":1,"s":"UC-R0-CeiIU","h":2.5,"v":3.9},
{"p":1,"s":"UC-R0","h":0.1,"v":2.7},{"p":1,"s":"UC-R0","h":0.2,"v":2.45},{"p":1,"s":"UC-R0","h":0.3,"v":2.25},{"p":1,"s":"UC-R0","h":0.4,"v":2.1},{"p":1,"s":"UC-R0","h":0.5,"v":2.05},{"p":1,"s":"UC-R0","h":0.6,"v":2.1},{"p":1,"s":"UC-R0","h":0.8,"v":2.25},{"p":1,"s":"UC-R0","h":1,"v":2.4},{"p":1,"s":"UC-R0","h":1.2,"v":2.6},{"p":1,"s":"UC-R0","h":1.5,"v":2.85},{"p":1,"s":"UC-R0","h":1.8,"v":3.05},{"p":1,"s":"UC-R0","h":2,"v":3.2},{"p":1,"s":"UC-R0","h":2.1,"v":3.35},{"p":1,"s":"UC-R0","h":2.2,"v":3.8},{"p":1,"s":"UC-R0","h":2.3,"v":4.75},{"p":1,"s":"UC-R0","h":2.4,"v":5.7},{"p":1,"s":"UC-R0","h":2.5,"v":6.4},
{"p":1,"s":"UC-R800","h":0.1,"v":0.6},{"p":1,"s":"UC-R800","h":0.2,"v":0.87},{"p":1,"s":"UC-R800","h":0.3,"v":1.2},{"p":1,"s":"UC-R800","h":0.4,"v":1.7},{"p":1,"s":"UC-R800","h":0.5,"v":2.4},{"p":1,"s":"UC-R800","h":0.6,"v":3.2},{"p":1,"s":"UC-R800","h":0.7,"v":4.5},{"p":1,"s":"UC-R800","h":0.8,"v":5.7},{"p":1,"s":"UC-R800","h":0.9,"v":6.9},{"p":1,"s":"UC-R800","h":1,"v":7.6},{"p":1,"s":"UC-R800","h":1.1,"v":7.4},{"p":1,"s":"UC-R800","h":1.2,"v":6.7},{"p":1,"s":"UC-R800","h":1.3,"v":6.4},{"p":1,"s":"UC-R800","h":1.4,"v":6.2},{"p":1,"s":"UC-R800","h":1.5,"v":6.3},{"p":1,"s":"UC-R800","h":1.6,"v":6.7},{"p":1,"s":"UC-R800","h":1.7,"v":7.5},{"p":1,"s":"UC-R800","h":1.8,"v":8.9},{"p":1,"s":"UC-R800","h":1.9,"v":9.9},{"p":1,"s":"UC-R800","h":2,"v":10.7},{"p":1,"s":"UC-R800","h":2.1,"v":11.4},{"p":1,"s":"UC-R800","h":2.2,"v":11.8},{"p":1,"s":"UC-R800","h":2.3,"v":11.7},{"p":1,"s":"UC-R800","h":2.4,"v":11.0},{"p":1,"s":"UC-R800","h":2.5,"v":10.0},
{"p":1,"s":"UCC-R0","h":0.1,"v":0.37},{"p":1,"s":"UCC-R0","h":0.2,"v":0.53},{"p":1,"s":"UCC-R0","h":0.3,"v":0.9},{"p":1,"s":"UCC-R0","h":0.4,"v":1.4},{"p":1,"s":"UCC-R0","h":0.5,"v":2.0},{"p":1,"s":"UCC-R0","h":0.6,"v":2.4},{"p":1,"s":"UCC-R0","h":0.7,"v":2.9},{"p":1,"s":"UCC-R0","h":0.8,"v":3.5},{"p":1,"s":"UCC-R0","h":0.9,"v":4.7},{"p":1,"s":"UCC-R0","h":1,"v":5.5},{"p":1,"s":"UCC-R0","h":1.1,"v":5.6},{"p":1,"s":"UCC-R0","h":1.2,"v":5.4},{"p":1,"s":"UCC-R0","h":1.3,"v":5.2},{"p":1,"s":"UCC-R0","h":1.4,"v":5.0},{"p":1,"s":"UCC-R0","h":1.5,"v":5.1},{"p":1,"s":"UCC-R0","h":1.6,"v":5.5},{"p":1,"s":"UCC-R0","h":1.7,"v":6.2},{"p":1,"s":"UCC-R0","h":1.8,"v":7.5},{"p":1,"s":"UCC-R0","h":1.9,"v":9.2},{"p":1,"s":"UCC-R0","h":2,"v":10.4},{"p":1,"s":"UCC-R0","h":2.1,"v":11.2},{"p":1,"s":"UCC-R0","h":2.2,"v":11.4},{"p":1,"s":"UCC-R0","h":2.3,"v":10.2},{"p":1,"s":"UCC-R0","h":2.4,"v":8.9},{"p":1,"s":"UCC-R0","h":2.5,"v":7.2},
{"p":1,"s":"UCC-R800","h":0.1,"v":0.2},{"p":1,"s":"UCC-R800","h":0.2,"v":0.47},{"p":1,"s":"UCC-R800","h":0.3,"v":0.87},{"p":1,"s":"UCC-R800","h":0.4,"v":1.4},{"p":1,"s":"UCC-R800","h":0.5,"v":2.0},{"p":1,"s":"UCC-R800","h":0.6,"v":3.0},{"p":1,"s":"UCC-R800","h":0.7,"v":4.2},{"p":1,"s":"UCC-R800","h":0.8,"v":5.4},{"p":1,"s":"UCC-R800","h":0.9,"v":6.4},{"p":1,"s":"UCC-R800","h":1,"v":7.2},{"p":1,"s":"UCC-R800","h":1.1,"v":7.4},{"p":1,"s":"UCC-R800","h":1.2,"v":7.2},{"p":1,"s":"UCC-R800","h":1.3,"v":7.1},{"p":1,"s":"UCC-R800","h":1.4,"v":7.1},{"p":1,"s":"UCC-R800","h":1.5,"v":7.2},{"p":1,"s":"UCC-R800","h":1.6,"v":7.5},{"p":1,"s":"UCC-R800","h":1.7,"v":8.4},{"p":1,"s":"UCC-R800","h":1.8,"v":9.9},{"p":1,"s":"UCC-R800","h":1.9,"v":11.9},{"p":1,"s":"UCC-R800","h":2,"v":13.5},{"p":1,"s":"UCC-R800","h":2.1,"v":14.5},{"p":1,"s":"UCC-R800","h":2.2,"v":14.8},{"p":1,"s":"UCC-R800","h":2.3,"v":13.9},{"p":1,"s":"UCC-R800","h":2.4,"v":12.2},{"p":1,"s":"UCC-R800","h":2.5,"v":10.0},
{"p":1,"s":"UC-R0-LoEx","h":0.1,"v":0.08},{"p":1,"s":"UC-R0-LoEx","h":0.3,"v":0.12},{"p":1,"s":"UC-R0-LoEx","h":0.5,"v":0.2},{"p":1,"s":"UC-R0-LoEx","h":0.8,"v":0.4},{"p":1,"s":"UC-R0-LoEx","h":1,"v":0.55},{"p":1,"s":"UC-R0-LoEx","h":1.2,"v":0.8},{"p":1,"s":"UC-R0-LoEx","h":1.5,"v":1.1},{"p":1,"s":"UC-R0-LoEx","h":1.8,"v":1.55},{"p":1,"s":"UC-R0-LoEx","h":1.9,"v":1.75},{"p":1,"s":"UC-R0-LoEx","h":2,"v":2.0},{"p":1,"s":"UC-R0-LoEx","h":2.1,"v":2.4},{"p":1,"s":"UC-R0-LoEx","h":2.2,"v":2.9},{"p":1,"s":"UC-R0-LoEx","h":2.3,"v":3.2},{"p":1,"s":"UC-R0-LoEx","h":2.4,"v":3.35},{"p":1,"s":"UC-R0-LoEx","h":2.5,"v":3.4},
{"p":2,"s":"UC-R0-CeiIU","h":0.1,"v":1.12},{"p":2,"s":"UC-R0-CeiIU","h":0.2,"v":1.08},{"p":2,"s":"UC-R0-CeiIU","h":0.3,"v":1.02},{"p":2,"s":"UC-R0-CeiIU","h":0.4,"v":0.97},{"p":2,"s":"UC-R0-CeiIU","h":0.5,"v":0.95},{"p":2,"s":"UC-R0-CeiIU","h":0.6,"v":0.93},{"p":2,"s":"UC-R0-CeiIU","h":0.65,"v":0.97},{"p":2,"s":"UC-R0-CeiIU","h":0.7,"v":1.08},{"p":2,"s":"UC-R0-CeiIU","h":0.75,"v":1.02},{"p":2,"s":"UC-R0-CeiIU","h":0.8,"v":0.93},{"p":2,"s":"UC-R0-CeiIU","h":0.83,"v":0.95},{"p":2,"s":"UC-R0-CeiIU","h":0.86,"v":1.16},{"p":2,"s":"UC-R0-CeiIU","h":0.9,"v":1.58},{"p":2,"s":"UC-R0-CeiIU","h":0.95,"v":1.79},{"p":2,"s":"UC-R0-CeiIU","h":1,"v":1.84},{"p":2,"s":"UC-R0-CeiIU","h":1.1,"v":1.79},{"p":2,"s":"UC-R0-CeiIU","h":1.2,"v":1.71},{"p":2,"s":"UC-R0-CeiIU","h":1.3,"v":1.62},{"p":2,"s":"UC-R0-CeiIU","h":1.4,"v":1.54},{"p":2,"s":"UC-R0-CeiIU","h":1.5,"v":1.46},{"p":2,"s":"UC-R0-CeiIU","h":1.6,"v":1.41},{"p":2,"s":"UC-R0-CeiIU","h":1.7,"v":1.33},{"p":2,"s":"UC-R0-CeiIU","h":1.8,"v":1.25},{"p":2,"s":"UC-R0-CeiIU","h":1.9,"v":1.16},{"p":2,"s":"UC-R0-CeiIU","h":2,"v":1.04},{"p":2,"s":"UC-R0-CeiIU","h":2.1,"v":0.87},{"p":2,"s":"UC-R0-CeiIU","h":2.2,"v":0.68},{"p":2,"s":"UC-R0-CeiIU","h":2.3,"v":0.62},{"p":2,"s":"UC-R0-CeiIU","h":2.4,"v":0.57},{"p":2,"s":"UC-R0-CeiIU","h":2.5,"v":0.54},
{"p":2,"s":"UC-R0","h":0.1,"v":1.3},{"p":2,"s":"UC-R0","h":0.2,"v":1.23},{"p":2,"s":"UC-R0","h":0.3,"v":1.12},{"p":2,"s":"UC-R0","h":0.4,"v":1.02},{"p":2,"s":"UC-R0","h":0.5,"v":0.97},{"p":2,"s":"UC-R0","h":0.6,"v":0.95},{"p":2,"s":"UC-R0","h":0.65,"v":0.97},{"p":2,"s":"UC-R0","h":0.7,"v":1.02},{"p":2,"s":"UC-R0","h":0.75,"v":0.91},{"p":2,"s":"UC-R0","h":0.8,"v":0.75},{"p":2,"s":"UC-R0","h":0.85,"v":0.83},{"p":2,"s":"UC-R0","h":0.9,"v":1.08},{"p":2,"s":"UC-R0","h":0.95,"v":1.33},{"p":2,"s":"UC-R0","h":1,"v":1.39},{"p":2,"s":"UC-R0","h":1.1,"v":1.39},{"p":2,"s":"UC-R0","h":1.2,"v":1.35},{"p":2,"s":"UC-R0","h":1.3,"v":1.29},{"p":2,"s":"UC-R0","h":1.4,"v":1.18},{"p":2,"s":"UC-R0","h":1.5,"v":1.14},{"p":2,"s":"UC-R0","h":1.6,"v":1.12},{"p":2,"s":"UC-R0","h":1.8,"v":1.08},{"p":2,"s":"UC-R0","h":2,"v":1.0},{"p":2,"s":"UC-R0","h":2.2,"v":0.95},{"p":2,"s":"UC-R0","h":2.4,"v":0.93},{"p":2,"s":"UC-R0","h":2.5,"v":0.91},
{"p":2,"s":"UC-R800","h":0.1,"v":0.79},{"p":2,"s":"UC-R800","h":0.3,"v":0.79},{"p":2,"s":"UC-R800","h":0.5,"v":0.75},{"p":2,"s":"UC-R800","h":0.7,"v":0.72},{"p":2,"s":"UC-R800","h":0.75,"v":0.72},{"p":2,"s":"UC-R800","h":0.8,"v":0.74},{"p":2,"s":"UC-R800","h":0.85,"v":0.72},{"p":2,"s":"UC-R800","h":0.9,"v":0.7},{"p":2,"s":"UC-R800","h":1,"v":0.68},{"p":2,"s":"UC-R800","h":1.5,"v":0.68},{"p":2,"s":"UC-R800","h":2,"v":0.66},{"p":2,"s":"UC-R800","h":2.3,"v":0.61},{"p":2,"s":"UC-R800","h":2.4,"v":0.62},{"p":2,"s":"UC-R800","h":2.5,"v":0.66},
{"p":2,"s":"UCC-R0","h":0.1,"v":0.62},{"p":2,"s":"UCC-R0","h":0.2,"v":0.67},{"p":2,"s":"UCC-R0","h":0.3,"v":0.71},{"p":2,"s":"UCC-R0","h":0.4,"v":0.69},{"p":2,"s":"UCC-R0","h":0.5,"v":0.67},{"p":2,"s":"UCC-R0","h":0.6,"v":0.64},{"p":2,"s":"UCC-R0","h":0.7,"v":0.6},{"p":2,"s":"UCC-R0","h":0.75,"v":0.64},{"p":2,"s":"UCC-R0","h":0.8,"v":0.68},{"p":2,"s":"UCC-R0","h":0.85,"v":0.63},{"p":2,"s":"UCC-R0","h":0.9,"v":0.59},{"p":2,"s":"UCC-R0","h":1,"v":0.6},{"p":2,"s":"UCC-R0","h":1.5,"v":0.6},{"p":2,"s":"UCC-R0","h":2,"v":0.61},{"p":2,"s":"UCC-R0","h":2.5,"v":0.61},
{"p":2,"s":"UCC-R800","h":0.1,"v":0.54},{"p":2,"s":"UCC-R800","h":0.2,"v":0.57},{"p":2,"s":"UCC-R800","h":0.3,"v":0.6},{"p":2,"s":"UCC-R800","h":0.4,"v":0.58},{"p":2,"s":"UCC-R800","h":0.5,"v":0.54},{"p":2,"s":"UCC-R800","h":0.6,"v":0.51},{"p":2,"s":"UCC-R800","h":0.7,"v":0.47},{"p":2,"s":"UCC-R800","h":0.75,"v":0.51},{"p":2,"s":"UCC-R800","h":0.8,"v":0.56},{"p":2,"s":"UCC-R800","h":0.85,"v":0.52},{"p":2,"s":"UCC-R800","h":0.9,"v":0.47},{"p":2,"s":"UCC-R800","h":1,"v":0.48},{"p":2,"s":"UCC-R800","h":1.5,"v":0.48},{"p":2,"s":"UCC-R800","h":2,"v":0.48},{"p":2,"s":"UCC-R800","h":2.5,"v":0.48},
{"p":2,"s":"UC-R0-LoEx","h":0.1,"v":0.18},{"p":2,"s":"UC-R0-LoEx","h":0.5,"v":0.17},{"p":2,"s":"UC-R0-LoEx","h":0.8,"v":0.17},{"p":2,"s":"UC-R0-LoEx","h":1,"v":0.19},{"p":2,"s":"UC-R0-LoEx","h":1.5,"v":0.17},{"p":2,"s":"UC-R0-LoEx","h":2,"v":0.15},{"p":2,"s":"UC-R0-LoEx","h":2.5,"v":0.13},
{"p":3,"s":"UC-R0-CeiIU","h":0.1,"v":0.92},{"p":3,"s":"UC-R0-CeiIU","h":0.2,"v":0.95},{"p":3,"s":"UC-R0-CeiIU","h":0.3,"v":0.98},{"p":3,"s":"UC-R0-CeiIU","h":0.4,"v":0.98},{"p":3,"s":"UC-R0-CeiIU","h":0.5,"v":0.97},{"p":3,"s":"UC-R0-CeiIU","h":0.6,"v":0.95},{"p":3,"s":"UC-R0-CeiIU","h":0.8,"v":0.92},{"p":3,"s":"UC-R0-CeiIU","h":1,"v":0.9},{"p":3,"s":"UC-R0-CeiIU","h":1.2,"v":0.88},{"p":3,"s":"UC-R0-CeiIU","h":1.3,"v":0.88},{"p":3,"s":"UC-R0-CeiIU","h":1.5,"v":0.87},{"p":3,"s":"UC-R0-CeiIU","h":1.6,"v":0.85},{"p":3,"s":"UC-R0-CeiIU","h":1.8,"v":0.81},{"p":3,"s":"UC-R0-CeiIU","h":2,"v":0.76},{"p":3,"s":"UC-R0-CeiIU","h":2.2,"v":0.71},{"p":3,"s":"UC-R0-CeiIU","h":2.3,"v":0.66},{"p":3,"s":"UC-R0-CeiIU","h":2.4,"v":0.6},{"p":3,"s":"UC-R0-CeiIU","h":2.5,"v":0.55},
{"p":3,"s":"UC-R0","h":0.1,"v":0.52},{"p":3,"s":"UC-R0","h":0.2,"v":0.54},{"p":3,"s":"UC-R0","h":0.3,"v":0.58},{"p":3,"s":"UC-R0","h":0.5,"v":0.55},{"p":3,"s":"UC-R0","h":0.8,"v":0.53},{"p":3,"s":"UC-R0","h":1,"v":0.52},{"p":3,"s":"UC-R0","h":1.5,"v":0.52},{"p":3,"s":"UC-R0","h":2,"v":0.53},{"p":3,"s":"UC-R0","h":2.2,"v":0.54},{"p":3,"s":"UC-R0","h":2.4,"v":0.55},{"p":3,"s":"UC-R0","h":2.5,"v":0.52},
{"p":3,"s":"UC-R800","h":0.1,"v":0.35},{"p":3,"s":"UC-R800","h":0.3,"v":0.34},{"p":3,"s":"UC-R800","h":0.5,"v":0.33},{"p":3,"s":"UC-R800","h":0.7,"v":0.33},{"p":3,"s":"UC-R800","h":0.8,"v":0.33},{"p":3,"s":"UC-R800","h":0.9,"v":0.35},{"p":3,"s":"UC-R800","h":1,"v":0.4},{"p":3,"s":"UC-R800","h":1.1,"v":0.42},{"p":3,"s":"UC-R800","h":1.3,"v":0.42},{"p":3,"s":"UC-R800","h":1.5,"v":0.41},{"p":3,"s":"UC-R800","h":1.6,"v":0.41},{"p":3,"s":"UC-R800","h":1.7,"v":0.42},{"p":3,"s":"UC-R800","h":1.8,"v":0.45},{"p":3,"s":"UC-R800","h":1.9,"v":0.5},{"p":3,"s":"UC-R800","h":2,"v":0.56},{"p":3,"s":"UC-R800","h":2.1,"v":0.63},{"p":3,"s":"UC-R800","h":2.2,"v":0.69},{"p":3,"s":"UC-R800","h":2.3,"v":0.67},{"p":3,"s":"UC-R800","h":2.4,"v":0.58},{"p":3,"s":"UC-R800","h":2.5,"v":0.5},
{"p":3,"s":"UCC-R0","h":0.1,"v":0.23},{"p":3,"s":"UCC-R0","h":0.3,"v":0.23},{"p":3,"s":"UCC-R0","h":0.5,"v":0.21},{"p":3,"s":"UCC-R0","h":1,"v":0.19},{"p":3,"s":"UCC-R0","h":2.5,"v":0.19},
{"p":3,"s":"UCC-R800","h":0.1,"v":0.15},{"p":3,"s":"UCC-R800","h":0.3,"v":0.15},{"p":3,"s":"UCC-R800","h":0.5,"v":0.13},{"p":3,"s":"UCC-R800","h":1,"v":0.13},{"p":3,"s":"UCC-R800","h":2.5,"v":0.13},
{"p":3,"s":"UC-R0-LoEx","h":0.1,"v":0.05},{"p":3,"s":"UC-R0-LoEx","h":1,"v":0.05},{"p":3,"s":"UC-R0-LoEx","h":2.5,"v":0.05},
{"p":4,"s":"UC-R0-CeiIU","h":0.1,"v":0.97},{"p":4,"s":"UC-R0-CeiIU","h":0.2,"v":1.0},{"p":4,"s":"UC-R0-CeiIU","h":0.3,"v":1.02},{"p":4,"s":"UC-R0-CeiIU","h":0.4,"v":1.04},{"p":4,"s":"UC-R0-CeiIU","h":0.5,"v":1.04},{"p":4,"s":"UC-R0-CeiIU","h":0.6,"v":1.03},{"p":4,"s":"UC-R0-CeiIU","h":0.8,"v":1.0},{"p":4,"s":"UC-R0-CeiIU","h":0.9,"v":0.98},{"p":4,"s":"UC-R0-CeiIU","h":1,"v":0.97},{"p":4,"s":"UC-R0-CeiIU","h":1.2,"v":0.96},{"p":4,"s":"UC-R0-CeiIU","h":1.3,"v":0.95},{"p":4,"s":"UC-R0-CeiIU","h":1.5,"v":0.93},{"p":4,"s":"UC-R0-CeiIU","h":1.6,"v":0.92},{"p":4,"s":"UC-R0-CeiIU","h":1.8,"v":0.88},{"p":4,"s":"UC-R0-CeiIU","h":2,"v":0.83},{"p":4,"s":"UC-R0-CeiIU","h":2.2,"v":0.78},{"p":4,"s":"UC-R0-CeiIU","h":2.3,"v":0.74},{"p":4,"s":"UC-R0-CeiIU","h":2.4,"v":0.72},{"p":4,"s":"UC-R0-CeiIU","h":2.5,"v":0.72},
{"p":4,"s":"UC-R0","h":0.1,"v":0.59},{"p":4,"s":"UC-R0","h":0.2,"v":0.6},{"p":4,"s":"UC-R0","h":0.25,"v":0.61},{"p":4,"s":"UC-R0","h":0.3,"v":0.65},{"p":4,"s":"UC-R0","h":0.4,"v":0.67},{"p":4,"s":"UC-R0","h":0.5,"v":0.67},{"p":4,"s":"UC-R0","h":0.6,"v":0.68},{"p":4,"s":"UC-R0","h":0.7,"v":0.68},{"p":4,"s":"UC-R0","h":0.8,"v":0.67},{"p":4,"s":"UC-R0","h":0.9,"v":0.63},{"p":4,"s":"UC-R0","h":1,"v":0.59},{"p":4,"s":"UC-R0","h":1.2,"v":0.59},{"p":4,"s":"UC-R0","h":1.5,"v":0.58},{"p":4,"s":"UC-R0","h":1.8,"v":0.57},{"p":4,"s":"UC-R0","h":2,"v":0.56},{"p":4,"s":"UC-R0","h":2.3,"v":0.54},{"p":4,"s":"UC-R0","h":2.5,"v":0.54},
{"p":4,"s":"UC-R800","h":0.1,"v":0.37},{"p":4,"s":"UC-R800","h":0.4,"v":0.37},{"p":4,"s":"UC-R800","h":0.6,"v":0.36},{"p":4,"s":"UC-R800","h":1,"v":0.34},{"p":4,"s":"UC-R800","h":1.5,"v":0.33},{"p":4,"s":"UC-R800","h":2,"v":0.33},{"p":4,"s":"UC-R800","h":2.5,"v":0.31},
{"p":4,"s":"UCC-R0","h":0.1,"v":0.25},{"p":4,"s":"UCC-R0","h":0.3,"v":0.26},{"p":4,"s":"UCC-R0","h":0.5,"v":0.25},{"p":4,"s":"UCC-R0","h":1,"v":0.23},{"p":4,"s":"UCC-R0","h":2.5,"v":0.23},
{"p":4,"s":"UCC-R800","h":0.1,"v":0.16},{"p":4,"s":"UCC-R800","h":0.5,"v":0.15},{"p":4,"s":"UCC-R800","h":2.5,"v":0.15},
{"p":4,"s":"UC-R0-LoEx","h":0.1,"v":0.06},{"p":4,"s":"UC-R0-LoEx","h":1.2,"v":0.06},{"p":4,"s":"UC-R0-LoEx","h":2.5,"v":0.06},
{"p":5,"s":"UC-R0-CeiIU","h":0.1,"v":1.35},{"p":5,"s":"UC-R0-CeiIU","h":0.2,"v":1.39},{"p":5,"s":"UC-R0-CeiIU","h":0.3,"v":1.42},{"p":5,"s":"UC-R0-CeiIU","h":0.4,"v":1.43},{"p":5,"s":"UC-R0-CeiIU","h":0.5,"v":1.44},{"p":5,"s":"UC-R0-CeiIU","h":0.6,"v":1.46},{"p":5,"s":"UC-R0-CeiIU","h":0.7,"v":1.48},{"p":5,"s":"UC-R0-CeiIU","h":0.8,"v":1.51},{"p":5,"s":"UC-R0-CeiIU","h":0.9,"v":1.57},{"p":5,"s":"UC-R0-CeiIU","h":1,"v":1.64},{"p":5,"s":"UC-R0-CeiIU","h":1.1,"v":1.69},{"p":5,"s":"UC-R0-CeiIU","h":1.2,"v":1.72},{"p":5,"s":"UC-R0-CeiIU","h":1.3,"v":1.71},{"p":5,"s":"UC-R0-CeiIU","h":1.4,"v":1.66},{"p":5,"s":"UC-R0-CeiIU","h":1.45,"v":1.58},{"p":5,"s":"UC-R0-CeiIU","h":1.5,"v":1.49},{"p":5,"s":"UC-R0-CeiIU","h":1.6,"v":1.28},{"p":5,"s":"UC-R0-CeiIU","h":1.7,"v":1.1},{"p":5,"s":"UC-R0-CeiIU","h":1.8,"v":1.01},{"p":5,"s":"UC-R0-CeiIU","h":1.9,"v":0.98},{"p":5,"s":"UC-R0-CeiIU","h":2,"v":0.98},{"p":5,"s":"UC-R0-CeiIU","h":2.1,"v":0.98},{"p":5,"s":"UC-R0-CeiIU","h":2.2,"v":0.99},{"p":5,"s":"UC-R0-CeiIU","h":2.3,"v":1.01},{"p":5,"s":"UC-R0-CeiIU","h":2.4,"v":1.03},{"p":5,"s":"UC-R0-CeiIU","h":2.5,"v":1.05},
{"p":5,"s":"UC-R0","h":0.1,"v":0.85},{"p":5,"s":"UC-R0","h":0.2,"v":0.87},{"p":5,"s":"UC-R0","h":0.3,"v":0.89},{"p":5,"s":"UC-R0","h":0.4,"v":0.9},{"p":5,"s":"UC-R0","h":0.5,"v":0.91},{"p":5,"s":"UC-R0","h":0.6,"v":0.91},{"p":5,"s":"UC-R0","h":1,"v":0.89},{"p":5,"s":"UC-R0","h":1.5,"v":0.89},{"p":5,"s":"UC-R0","h":2,"v":0.91},{"p":5,"s":"UC-R0","h":2.2,"v":0.93},{"p":5,"s":"UC-R0","h":2.3,"v":0.95},{"p":5,"s":"UC-R0","h":2.4,"v":0.98},{"p":5,"s":"UC-R0","h":2.5,"v":1.03},
{"p":5,"s":"UC-R800","h":0.1,"v":0.55},{"p":5,"s":"UC-R800","h":0.2,"v":0.58},{"p":5,"s":"UC-R800","h":0.3,"v":0.6},{"p":5,"s":"UC-R800","h":0.4,"v":0.62},{"p":5,"s":"UC-R800","h":0.5,"v":0.6},{"p":5,"s":"UC-R800","h":0.6,"v":0.58},{"p":5,"s":"UC-R800","h":0.8,"v":0.53},{"p":5,"s":"UC-R800","h":1,"v":0.48},{"p":5,"s":"UC-R800","h":1.2,"v":0.46},{"p":5,"s":"UC-R800","h":1.5,"v":0.45},{"p":5,"s":"UC-R800","h":1.7,"v":0.48},{"p":5,"s":"UC-R800","h":1.8,"v":0.51},{"p":5,"s":"UC-R800","h":1.9,"v":0.55},{"p":5,"s":"UC-R800","h":2,"v":0.62},{"p":5,"s":"UC-R800","h":2.1,"v":0.7},{"p":5,"s":"UC-R800","h":2.2,"v":0.83},{"p":5,"s":"UC-R800","h":2.25,"v":0.95},{"p":5,"s":"UC-R800","h":2.3,"v":1.12},{"p":5,"s":"UC-R800","h":2.35,"v":1.33},{"p":5,"s":"UC-R800","h":2.4,"v":1.53},{"p":5,"s":"UC-R800","h":2.45,"v":1.78},{"p":5,"s":"UC-R800","h":2.5,"v":1.94},
{"p":5,"s":"UCC-R0","h":0.1,"v":0.37},{"p":5,"s":"UCC-R0","h":0.2,"v":0.39},{"p":5,"s":"UCC-R0","h":0.3,"v":0.41},{"p":5,"s":"UCC-R0","h":0.4,"v":0.42},{"p":5,"s":"UCC-R0","h":0.5,"v":0.41},{"p":5,"s":"UCC-R0","h":0.6,"v":0.4},{"p":5,"s":"UCC-R0","h":0.8,"v":0.37},{"p":5,"s":"UCC-R0","h":1,"v":0.34},{"p":5,"s":"UCC-R0","h":1.5,"v":0.32},{"p":5,"s":"UCC-R0","h":1.8,"v":0.32},{"p":5,"s":"UCC-R0","h":2,"v":0.33},{"p":5,"s":"UCC-R0","h":2.1,"v":0.35},{"p":5,"s":"UCC-R0","h":2.2,"v":0.45},{"p":5,"s":"UCC-R0","h":2.3,"v":0.58},{"p":5,"s":"UCC-R0","h":2.4,"v":0.68},{"p":5,"s":"UCC-R0","h":2.5,"v":0.71},
{"p":5,"s":"UCC-R800","h":0.1,"v":0.33},{"p":5,"s":"UCC-R800","h":0.2,"v":0.36},{"p":5,"s":"UCC-R800","h":0.3,"v":0.39},{"p":5,"s":"UCC-R800","h":0.4,"v":0.4},{"p":5,"s":"UCC-R800","h":0.5,"v":0.39},{"p":5,"s":"UCC-R800","h":0.6,"v":0.37},{"p":5,"s":"UCC-R800","h":0.8,"v":0.32},{"p":5,"s":"UCC-R800","h":1,"v":0.28},{"p":5,"s":"UCC-R800","h":1.5,"v":0.25},{"p":5,"s":"UCC-R800","h":1.9,"v":0.25},{"p":5,"s":"UCC-R800","h":2,"v":0.27},{"p":5,"s":"UCC-R800","h":2.1,"v":0.3},{"p":5,"s":"UCC-R800","h":2.2,"v":0.39},{"p":5,"s":"UCC-R800","h":2.3,"v":0.5},{"p":5,"s":"UCC-R800","h":2.4,"v":0.53},{"p":5,"s":"UCC-R800","h":2.5,"v":0.5},
{"p":5,"s":"UC-R0-LoEx","h":0.1,"v":0.08},{"p":5,"s":"UC-R0-LoEx","h":1.2,"v":0.08},{"p":5,"s":"UC-R0-LoEx","h":2.5,"v":0.08}
]
},
"vconcat":[
 {"hconcat":[
  {"width":40,"height":370,"view":{"stroke":"#404040","strokeWidth":1.5},"data":{"values":[{"t":"PA=27°C, Window=-125W/m²"}]},"mark":{"type":"text","angle":270,"fontSize":21},"encoding":{"text":{"field":"t"}}},
  {"vconcat":[
   {"width":1159,"height":33,"view":{"stroke":"#404040","strokeWidth":1.5},"data":{"values":[{"a":"1","t":"Area 1 (gas source)"},{"a":"2","t":"Area 2 (bed-NE)"},{"a":"3","t":"Area 3 (bed-SW)"},{"a":"4","t":"Area 4 (bed-SE)"},{"a":"5","t":"Area 5 (room center)"}]},"mark":{"type":"text","fontSize":22},"encoding":{"x":{"field":"a","type":"nominal","scale":{"type":"band","paddingInner":0,"paddingOuter":0.044,"align":0.85},"axis":null},"text":{"field":"t"}}},
   {"hconcat":[
    {"width":5,"height":1,"data":{"values":[]},"mark":"point"},
    {"width":151,"height":246,"title":{"text":" ","fontSize":10,"offset":5},"view":{"stroke":"black","strokeWidth":2},"data":{"name":"ta"},"transform":[{"filter":"datum.p==1"}],"mark":{"type":"line","interpolate":"catmull-rom","clip":true},"encoding":{"x":{"field":"v","type":"quantitative","scale":{"domain":[23,26],"nice":false,"zero":false},"axis":{"values":[23,24,25,26],"title":"Temperature (°C)","labelPadding":14,"titlePadding":6}},"y":{"field":"h","type":"quantitative","scale":{"domain":[0,2.6],"nice":false},"axis":{"values":[0,0.5,1,1.5,2,2.5],"format":"~g","title":"Height from the floor (m)","labelPadding":16,"titlePadding":2}},"color":{"field":"s","type":"nominal","scale":{"domain":["UC-R0","UC-R800","UC-R0-LoEx","UCC-R0","UCC-R800","UC-R0-CeiIU"],"range":["#000000","#548235","#C00000","#FFC000","#FF0000","#A6A6A6"]},"legend":null},"strokeDash":{"field":"s","type":"nominal","scale":{"domain":["UC-R0","UC-R800","UC-R0-LoEx","UCC-R0","UCC-R800","UC-R0-CeiIU"],"range":[[4,3],[3,2],[10,3,2,3,2,3],[1,0],[1,0],[12,6,2,6]]},"legend":null},"strokeWidth":{"field":"s","type":"ordinal","scale":{"domain":["UC-R0","UC-R800","UC-R0-LoEx","UCC-R0","UCC-R800","UC-R0-CeiIU"],"range":[1.6,1.6,2,1.3,1.3,2.8]},"legend":null},"order":{"field":"h","type":"quantitative"}}},
    {"width":19,"height":1,"data":{"values":[]},"mark":"point"},
    {"width":151,"height":246,"title":{"text":" ","fontSize":10,"offset":5},"view":{"stroke":"black","strokeWidth":2},"data":{"name":"ta"},"transform":[{"filter":"datum.p==2"}],"mark":{"type":"line","interpolate":"catmull-rom","clip":true},"encoding":{"x":{"field":"v","type":"quantitative","scale":{"domain":[23,26],"nice":false,"zero":false},"axis":{"values":[23,24,25,26],"title":"Temperature (°C)","labelPadding":14,"titlePadding":6}},"y":{"field":"h","type":"quantitative","scale":{"domain":[0,2.6],"nice":false},"axis":{"values":[0,0.5,1,1.5,2,2.5],"format":"~g","title":null,"labelPadding":16}},"color":{"field":"s","type":"nominal","scale":{"domain":["UC-R0","UC-R800","UC-R0-LoEx","UCC-R0","UCC-R800","UC-R0-CeiIU"],"range":["#000000","#548235","#C00000","#FFC000","#FF0000","#A6A6A6"]},"legend":null},"strokeDash":{"field":"s","type":"nominal","scale":{"domain":["UC-R0","UC-R800","UC-R0-LoEx","UCC-R0","UCC-R800","UC-R0-CeiIU"],"range":[[4,3],[3,2],[10,3,2,3,2,3],[1,0],[1,0],[12,6,2,6]]},"legend":null},"strokeWidth":{"field":"s","type":"ordinal","scale":{"domain":["UC-R0","UC-R800","UC-R0-LoEx","UCC-R0","UCC-R800","UC-R0-CeiIU"],"range":[1.6,1.6,2,1.3,1.3,2.8]},"legend":null},"order":{"field":"h","type":"quantitative"}}},
    {"width":22,"height":1,"data":{"values":[]},"mark":"point"},
    {"width":151,"height":246,"title":{"text":" ","fontSize":10,"offset":5},"view":{"stroke":"black","strokeWidth":2},"data":{"name":"ta"},"transform":[{"filter":"datum.p==3"}],"mark":{"type":"line","interpolate":"catmull-rom","clip":true},"encoding":{"x":{"field":"v","type":"quantitative","scale":{"domain":[23,26],"nice":false,"zero":false},"axis":{"values":[23,24,25,26],"title":"Temperature (°C)","labelPadding":14,"titlePadding":6}},"y":{"field":"h","type":"quantitative","scale":{"domain":[0,2.6],"nice":false},"axis":{"values":[0,0.5,1,1.5,2,2.5],"format":"~g","title":null,"labelPadding":16}},"color":{"field":"s","type":"nominal","scale":{"domain":["UC-R0","UC-R800","UC-R0-LoEx","UCC-R0","UCC-R800","UC-R0-CeiIU"],"range":["#000000","#548235","#C00000","#FFC000","#FF0000","#A6A6A6"]},"legend":null},"strokeDash":{"field":"s","type":"nominal","scale":{"domain":["UC-R0","UC-R800","UC-R0-LoEx","UCC-R0","UCC-R800","UC-R0-CeiIU"],"range":[[4,3],[3,2],[10,3,2,3,2,3],[1,0],[1,0],[12,6,2,6]]},"legend":null},"strokeWidth":{"field":"s","type":"ordinal","scale":{"domain":["UC-R0","UC-R800","UC-R0-LoEx","UCC-R0","UCC-R800","UC-R0-CeiIU"],"range":[1.6,1.6,2,1.3,1.3,2.8]},"legend":null},"order":{"field":"h","type":"quantitative"}}},
    {"width":26,"height":1,"data":{"values":[]},"mark":"point"},
    {"width":151,"height":246,"title":{"text":" ","fontSize":10,"offset":5},"view":{"stroke":"black","strokeWidth":2},"data":{"name":"ta"},"transform":[{"filter":"datum.p==4"}],"mark":{"type":"line","interpolate":"catmull-rom","clip":true},"encoding":{"x":{"field":"v","type":"quantitative","scale":{"domain":[23,26],"nice":false,"zero":false},"axis":{"values":[23,24,25,26],"title":"Temperature (°C)","labelPadding":14,"titlePadding":6}},"y":{"field":"h","type":"quantitative","scale":{"domain":[0,2.6],"nice":false},"axis":{"values":[0,0.5,1,1.5,2,2.5],"format":"~g","title":null,"labelPadding":16}},"color":{"field":"s","type":"nominal","scale":{"domain":["UC-R0","UC-R800","UC-R0-LoEx","UCC-R0","UCC-R800","UC-R0-CeiIU"],"range":["#000000","#548235","#C00000","#FFC000","#FF0000","#A6A6A6"]},"legend":null},"strokeDash":{"field":"s","type":"nominal","scale":{"domain":["UC-R0","UC-R800","UC-R0-LoEx","UCC-R0","UCC-R800","UC-R0-CeiIU"],"range":[[4,3],[3,2],[10,3,2,3,2,3],[1,0],[1,0],[12,6,2,6]]},"legend":null},"strokeWidth":{"field":"s","type":"ordinal","scale":{"domain":["UC-R0","UC-R800","UC-R0-LoEx","UCC-R0","UCC-R800","UC-R0-CeiIU"],"range":[1.6,1.6,2,1.3,1.3,2.8]},"legend":null},"order":{"field":"h","type":"quantitative"}}},
    {"width":21,"height":1,"data":{"values":[]},"mark":"point"},
    {"width":151,"height":246,"title":{"text":" ","fontSize":10,"offset":5},"view":{"stroke":"black","strokeWidth":2},"data":{"name":"ta"},"transform":[{"filter":"datum.p==5"}],"mark":{"type":"line","interpolate":"catmull-rom","clip":true},"encoding":{"x":{"field":"v","type":"quantitative","scale":{"domain":[23,26],"nice":false,"zero":false},"axis":{"values":[23,24,25,26],"title":"Temperature (°C)","labelPadding":14,"titlePadding":6}},"y":{"field":"h","type":"quantitative","scale":{"domain":[0,2.6],"nice":false},"axis":{"values":[0,0.5,1,1.5,2,2.5],"format":"~g","title":null,"labelPadding":16}},"color":{"field":"s","type":"nominal","scale":{"domain":["UC-R0","UC-R800","UC-R0-LoEx","UCC-R0","UCC-R800","UC-R0-CeiIU"],"range":["#000000","#548235","#C00000","#FFC000","#FF0000","#A6A6A6"]},"legend":null},"strokeDash":{"field":"s","type":"nominal","scale":{"domain":["UC-R0","UC-R800","UC-R0-LoEx","UCC-R0","UCC-R800","UC-R0-CeiIU"],"range":[[4,3],[3,2],[10,3,2,3,2,3],[1,0],[1,0],[12,6,2,6]]},"legend":null},"strokeWidth":{"field":"s","type":"ordinal","scale":{"domain":["UC-R0","UC-R800","UC-R0-LoEx","UCC-R0","UCC-R800","UC-R0-CeiIU"],"range":[1.6,1.6,2,1.3,1.3,2.8]},"legend":null},"order":{"field":"h","type":"quantitative"}}}
   ]}
  ]}
 ]},
 {"width":1199,"height":62,"view":{"stroke":"#404040","strokeWidth":1.5},"data":{"values":[]},"mark":{"type":"line"},"encoding":{"color":{"field":"s","type":"nominal","scale":{"domain":["UC-R0","UC-R800","UC-R0-LoEx","UCC-R0","UCC-R800","UC-R0-CeiIU"],"range":["#000000","#548235","#C00000","#FFC000","#FF0000","#A6A6A6"]},"legend":{"orient":"none","legendX":169,"legendY":9,"direction":"horizontal","columns":3,"title":null,"symbolType":"M-3,0H3","symbolSize":361,"symbolStrokeWidth":2,"labelFont":"Liberation Serif","labelFontSize":21.5,"labelColor":"black","labelOffset":58,"columnPadding":134,"rowPadding":2,"labelLimit":300}},"strokeDash":{"field":"s","type":"nominal","scale":{"domain":["UC-R0","UC-R800","UC-R0-LoEx","UCC-R0","UCC-R800","UC-R0-CeiIU"],"range":[[4,3],[3,2],[10,3,2,3,2,3],[1,0],[1,0],[12,6,2,6]]},"legend":{"orient":"none","legendX":169,"legendY":9,"direction":"horizontal","columns":3,"title":null,"symbolType":"M-3,0H3","symbolSize":361,"symbolStrokeWidth":2,"labelFont":"Liberation Serif","labelFontSize":21.5,"labelColor":"black","labelOffset":58,"columnPadding":134,"rowPadding":2,"labelLimit":300}}}},
 {"width":1199,"height":34,"data":{"values":[{"t":"(a)"}]},"mark":{"type":"text","fontSize":21,"fontWeight":"bold"},"encoding":{"text":{"field":"t"}}},
 {"hconcat":[
  {"width":40,"height":385,"view":{"stroke":"#404040","strokeWidth":1.5},"data":{"values":[{"t":"PA=27°C, Window=-125W/m²"}]},"mark":{"type":"text","angle":270,"fontSize":21},"encoding":{"text":{"field":"t"}}},
  {"vconcat":[
   {"hconcat":[
    {"width":248,"height":35,"view":{"stroke":"#404040","strokeWidth":1.5},"data":{"values":[{"t":"Area 1 (gas source)"}]},"mark":{"type":"text","fontSize":22,"dx":10},"encoding":{"text":{"field":"t"}}},
    {"width":911,"height":35,"view":{"stroke":"#404040","strokeWidth":1.5},"data":{"values":[{"a":"2","t":"Area 2 (bed-NE)"},{"a":"3","t":"Area 3 (bed-SW)"},{"a":"4","t":"Area 4 (bed-SE)"},{"a":"5","t":"Area 5 (room center)"}]},"mark":{"type":"text","fontSize":22},"encoding":{"x":{"field":"a","type":"nominal","scale":{"type":"band","paddingInner":0,"paddingOuter":0},"axis":null},"text":{"field":"t"}}}
   ]},
   {"hconcat":[
    {"vconcat":[
     {"width":1,"height":4,"data":{"values":[]},"mark":"point"},
     {"hconcat":[
      {"width":8,"height":1,"data":{"values":[]},"mark":"point"},
      {"width":151,"height":246,"view":{"stroke":"black","strokeWidth":2},"data":{"name":"cb"},"transform":[{"filter":"datum.p==1"}],"mark":{"type":"line","interpolate":"catmull-rom","clip":true},"encoding":{"x":{"field":"v","type":"quantitative","scale":{"domain":[0,15],"nice":false},"axis":{"values":[0,3,6,9,12,15],"title":["Normalized","concentration (-)"],"labelPadding":18,"titlePadding":0,"titleFontSize":20,"titleLineHeight":23}},"y":{"field":"h","type":"quantitative","scale":{"domain":[0,2.6],"nice":false},"axis":{"values":[0,0.5,1,1.5,2,2.5],"format":"~g","title":"Height from the floor (m)","labelPadding":20,"titlePadding":0}},"color":{"field":"s","type":"nominal","scale":{"domain":["UC-R0","UC-R800","UC-R0-LoEx","UCC-R0","UCC-R800","UC-R0-CeiIU"],"range":["#000000","#548235","#C00000","#FFC000","#FF0000","#A6A6A6"]},"legend":null},"strokeDash":{"field":"s","type":"nominal","scale":{"domain":["UC-R0","UC-R800","UC-R0-LoEx","UCC-R0","UCC-R800","UC-R0-CeiIU"],"range":[[4,3],[3,2],[10,3,2,3,2,3],[1,0],[1,0],[12,6,2,6]]},"legend":null},"strokeWidth":{"field":"s","type":"ordinal","scale":{"domain":["UC-R0","UC-R800","UC-R0-LoEx","UCC-R0","UCC-R800","UC-R0-CeiIU"],"range":[1.6,1.6,2,1.3,1.3,2.8]},"legend":null},"order":{"field":"h","type":"quantitative"}}},
      {"width":2,"height":1,"data":{"values":[]},"mark":"point"}
     ]}
    ]},
    {"width":1,"height":350,"view":{"stroke":"#404040","strokeWidth":1},"data":{"values":[]},"mark":"point"},
    {"vconcat":[
     {"width":1,"height":4,"data":{"values":[]},"mark":"point"},
     {"hconcat":[
      {"width":15,"height":1,"data":{"values":[]},"mark":"point"},
      {"width":159,"height":246,"view":{"stroke":"black","strokeWidth":2},"data":{"name":"cb"},"transform":[{"filter":"datum.p==2"}],"mark":{"type":"line","interpolate":"catmull-rom","clip":true},"encoding":{"x":{"field":"v","type":"quantitative","scale":{"domain":[0,2],"nice":false},"axis":{"values":[0,0.5,1,1.5,2],"format":"~g","title":["Normalized","concentration (-)"],"labelPadding":18,"titlePadding":0,"titleFontSize":20,"titleLineHeight":23}},"y":{"field":"h","type":"quantitative","scale":{"domain":[0,2.6],"nice":false},"axis":{"values":[0,0.5,1,1.5,2,2.5],"format":"~g","title":null,"labelPadding":16}},"color":{"field":"s","type":"nominal","scale":{"domain":["UC-R0","UC-R800","UC-R0-LoEx","UCC-R0","UCC-R800","UC-R0-CeiIU"],"range":["#000000","#548235","#C00000","#FFC000","#FF0000","#A6A6A6"]},"legend":null},"strokeDash":{"field":"s","type":"nominal","scale":{"domain":["UC-R0","UC-R800","UC-R0-LoEx","UCC-R0","UCC-R800","UC-R0-CeiIU"],"range":[[4,3],[3,2],[10,3,2,3,2,3],[1,0],[1,0],[12,6,2,6]]},"legend":null},"strokeWidth":{"field":"s","type":"ordinal","scale":{"domain":["UC-R0","UC-R800","UC-R0-LoEx","UCC-R0","UCC-R800","UC-R0-CeiIU"],"range":[1.6,1.6,2,1.3,1.3,2.8]},"legend":null},"order":{"field":"h","type":"quantitative"}}},
      {"width":16,"height":1,"data":{"values":[]},"mark":"point"},
      {"width":160,"height":246,"view":{"stroke":"black","strokeWidth":2},"data":{"name":"cb"},"transform":[{"filter":"datum.p==3"}],"mark":{"type":"line","interpolate":"catmull-rom","clip":true},"encoding":{"x":{"field":"v","type":"quantitative","scale":{"domain":[0,2],"nice":false},"axis":{"values":[0,0.5,1,1.5,2],"format":"~g","title":["Normalized","concentration (-)"],"labelPadding":18,"titlePadding":0,"titleFontSize":20,"titleLineHeight":23}},"y":{"field":"h","type":"quantitative","scale":{"domain":[0,2.6],"nice":false},"axis":{"values":[0,0.5,1,1.5,2,2.5],"format":"~g","title":null,"labelPadding":16}},"color":{"field":"s","type":"nominal","scale":{"domain":["UC-R0","UC-R800","UC-R0-LoEx","UCC-R0","UCC-R800","UC-R0-CeiIU"],"range":["#000000","#548235","#C00000","#FFC000","#FF0000","#A6A6A6"]},"legend":null},"strokeDash":{"field":"s","type":"nominal","scale":{"domain":["UC-R0","UC-R800","UC-R0-LoEx","UCC-R0","UCC-R800","UC-R0-CeiIU"],"range":[[4,3],[3,2],[10,3,2,3,2,3],[1,0],[1,0],[12,6,2,6]]},"legend":null},"strokeWidth":{"field":"s","type":"ordinal","scale":{"domain":["UC-R0","UC-R800","UC-R0-LoEx","UCC-R0","UCC-R800","UC-R0-CeiIU"],"range":[1.6,1.6,2,1.3,1.3,2.8]},"legend":null},"order":{"field":"h","type":"quantitative"}}},
      {"width":23,"height":1,"data":{"values":[]},"mark":"point"},
      {"width":160,"height":246,"view":{"stroke":"black","strokeWidth":2},"data":{"name":"cb"},"transform":[{"filter":"datum.p==4"}],"mark":{"type":"line","interpolate":"catmull-rom","clip":true},"encoding":{"x":{"field":"v","type":"quantitative","scale":{"domain":[0,2],"nice":false},"axis":{"values":[0,0.5,1,1.5,2],"format":"~g","title":["Normalized","concentration (-)"],"labelPadding":18,"titlePadding":0,"titleFontSize":20,"titleLineHeight":23}},"y":{"field":"h","type":"quantitative","scale":{"domain":[0,2.6],"nice":false},"axis":{"values":[0,0.5,1,1.5,2,2.5],"format":"~g","title":null,"labelPadding":16}},"color":{"field":"s","type":"nominal","scale":{"domain":["UC-R0","UC-R800","UC-R0-LoEx","UCC-R0","UCC-R800","UC-R0-CeiIU"],"range":["#000000","#548235","#C00000","#FFC000","#FF0000","#A6A6A6"]},"legend":null},"strokeDash":{"field":"s","type":"nominal","scale":{"domain":["UC-R0","UC-R800","UC-R0-LoEx","UCC-R0","UCC-R800","UC-R0-CeiIU"],"range":[[4,3],[3,2],[10,3,2,3,2,3],[1,0],[1,0],[12,6,2,6]]},"legend":null},"strokeWidth":{"field":"s","type":"ordinal","scale":{"domain":["UC-R0","UC-R800","UC-R0-LoEx","UCC-R0","UCC-R800","UC-R0-CeiIU"],"range":[1.6,1.6,2,1.3,1.3,2.8]},"legend":null},"order":{"field":"h","type":"quantitative"}}},
      {"width":15,"height":1,"data":{"values":[]},"mark":"point"},
      {"width":160,"height":246,"view":{"stroke":"black","strokeWidth":2},"data":{"name":"cb"},"transform":[{"filter":"datum.p==5"}],"mark":{"type":"line","interpolate":"catmull-rom","clip":true},"encoding":{"x":{"field":"v","type":"quantitative","scale":{"domain":[0,2],"nice":false},"axis":{"values":[0,0.5,1,1.5,2],"format":"~g","title":["Normalized","concentration (-)"],"labelPadding":18,"titlePadding":0,"titleFontSize":20,"titleLineHeight":23}},"y":{"field":"h","type":"quantitative","scale":{"domain":[0,2.6],"nice":false},"axis":{"values":[0,0.5,1,1.5,2,2.5],"format":"~g","title":null,"labelPadding":16}},"color":{"field":"s","type":"nominal","scale":{"domain":["UC-R0","UC-R800","UC-R0-LoEx","UCC-R0","UCC-R800","UC-R0-CeiIU"],"range":["#000000","#548235","#C00000","#FFC000","#FF0000","#A6A6A6"]},"legend":null},"strokeDash":{"field":"s","type":"nominal","scale":{"domain":["UC-R0","UC-R800","UC-R0-LoEx","UCC-R0","UCC-R800","UC-R0-CeiIU"],"range":[[4,3],[3,2],[10,3,2,3,2,3],[1,0],[1,0],[12,6,2,6]]},"legend":null},"strokeWidth":{"field":"s","type":"ordinal","scale":{"domain":["UC-R0","UC-R800","UC-R0-LoEx","UCC-R0","UCC-R800","UC-R0-CeiIU"],"range":[1.6,1.6,2,1.3,1.3,2.8]},"legend":null},"order":{"field":"h","type":"quantitative"}}}
     ]}
    ]}
   ]}
  ]}
 ]},
 {"width":1199,"height":63,"view":{"stroke":"#404040","strokeWidth":1.5},"data":{"values":[]},"mark":{"type":"line"},"encoding":{"color":{"field":"s","type":"nominal","scale":{"domain":["UC-R0","UC-R800","UC-R0-LoEx","UCC-R0","UCC-R800","UC-R0-CeiIU"],"range":["#000000","#548235","#C00000","#FFC000","#FF0000","#A6A6A6"]},"legend":{"orient":"none","legendX":169,"legendY":10,"direction":"horizontal","columns":3,"title":null,"symbolType":"M-3,0H3","symbolSize":361,"symbolStrokeWidth":2,"labelFont":"Liberation Serif","labelFontSize":21.5,"labelColor":"black","labelOffset":58,"columnPadding":134,"rowPadding":2,"labelLimit":300}},"strokeDash":{"field":"s","type":"nominal","scale":{"domain":["UC-R0","UC-R800","UC-R0-LoEx","UCC-R0","UCC-R800","UC-R0-CeiIU"],"range":[[4,3],[3,2],[10,3,2,3,2,3],[1,0],[1,0],[12,6,2,6]]},"legend":{"orient":"none","legendX":169,"legendY":10,"direction":"horizontal","columns":3,"title":null,"symbolType":"M-3,0H3","symbolSize":361,"symbolStrokeWidth":2,"labelFont":"Liberation Serif","labelFontSize":21.5,"labelColor":"black","labelOffset":58,"columnPadding":134,"rowPadding":2,"labelLimit":300}}}},
 {"width":1199,"height":26,"data":{"values":[{"t":"(b)"}]},"mark":{"type":"text","fontSize":21,"fontWeight":"bold"},"encoding":{"text":{"field":"t"}}}
]
}
